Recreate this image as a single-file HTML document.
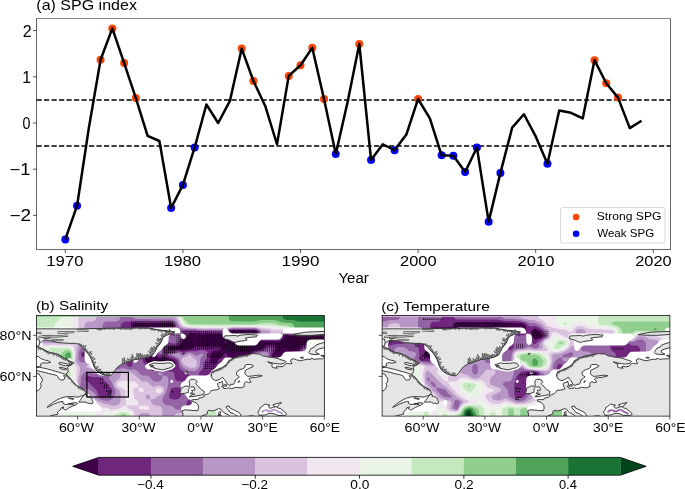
<!DOCTYPE html>
<html><head><meta charset="utf-8"><style>
html,body{margin:0;padding:0;background:#fff;width:685px;height:489px;overflow:hidden}
svg{display:block}
</style></head><body>
<svg width="685" height="489" viewBox="0 0 685 489">
<defs><pattern id="stp" patternUnits="userSpaceOnUse" x="0.07" y="1.0" width="2.0557" height="2.0557"><rect x="0" y="0.15" width="0.9" height="1.3" fill="#000"/></pattern></defs>
<line x1="36.5" y1="99.90" x2="670.5" y2="99.90" stroke="#000" stroke-width="1.5" stroke-dasharray="5.2 2.3"/>
<line x1="36.5" y1="146.10" x2="670.5" y2="146.10" stroke="#000" stroke-width="1.5" stroke-dasharray="5.2 2.3"/>
<circle cx="100.58" cy="59.71" r="4" fill="#ff4500"/>
<circle cx="112.34" cy="28.38" r="4" fill="#ff4500"/>
<circle cx="124.10" cy="62.94" r="4" fill="#ff4500"/>
<circle cx="135.86" cy="98.05" r="4" fill="#ff4500"/>
<circle cx="241.70" cy="48.62" r="4" fill="#ff4500"/>
<circle cx="253.46" cy="80.96" r="4" fill="#ff4500"/>
<circle cx="288.74" cy="75.88" r="4" fill="#ff4500"/>
<circle cx="300.50" cy="65.25" r="4" fill="#ff4500"/>
<circle cx="312.26" cy="47.69" r="4" fill="#ff4500"/>
<circle cx="324.02" cy="98.98" r="4" fill="#ff4500"/>
<circle cx="359.30" cy="44.00" r="4" fill="#ff4500"/>
<circle cx="418.10" cy="98.98" r="4" fill="#ff4500"/>
<circle cx="594.50" cy="60.17" r="4" fill="#ff4500"/>
<circle cx="606.26" cy="83.27" r="4" fill="#ff4500"/>
<circle cx="618.02" cy="97.59" r="4" fill="#ff4500"/>
<circle cx="65.30" cy="239.42" r="4" fill="#0000ff"/>
<circle cx="77.06" cy="205.70" r="4" fill="#0000ff"/>
<circle cx="171.14" cy="208.01" r="4" fill="#0000ff"/>
<circle cx="182.90" cy="184.91" r="4" fill="#0000ff"/>
<circle cx="194.66" cy="147.49" r="4" fill="#0000ff"/>
<circle cx="335.78" cy="153.95" r="4" fill="#0000ff"/>
<circle cx="371.06" cy="159.96" r="4" fill="#0000ff"/>
<circle cx="394.58" cy="150.26" r="4" fill="#0000ff"/>
<circle cx="441.62" cy="155.34" r="4" fill="#0000ff"/>
<circle cx="453.38" cy="155.80" r="4" fill="#0000ff"/>
<circle cx="465.14" cy="171.97" r="4" fill="#0000ff"/>
<circle cx="476.90" cy="147.49" r="4" fill="#0000ff"/>
<circle cx="488.66" cy="221.64" r="4" fill="#0000ff"/>
<circle cx="500.42" cy="172.90" r="4" fill="#0000ff"/>
<circle cx="547.46" cy="163.66" r="4" fill="#0000ff"/>
<polyline points="65.30,239.42 77.06,205.70 88.82,128.08 100.58,59.71 112.34,28.38 124.10,62.94 135.86,98.05 147.62,135.94 159.38,141.02 171.14,208.01 182.90,184.91 194.66,147.49 206.42,104.52 218.18,123.00 229.94,100.82 241.70,48.62 253.46,80.96 265.22,105.91 276.98,144.25 288.74,75.88 300.50,65.25 312.26,47.69 324.02,98.98 335.78,153.95 347.54,102.21 359.30,44.00 371.06,159.96 382.82,144.25 394.58,150.26 406.34,134.55 418.10,98.98 429.86,118.38 441.62,155.34 453.38,155.80 465.14,171.97 476.90,147.49 488.66,221.64 500.42,172.90 512.18,127.62 523.94,114.22 535.70,136.40 547.46,163.66 559.22,110.53 570.98,112.84 582.74,118.38 594.50,60.17 606.26,83.27 618.02,97.59 629.78,128.08 641.54,120.69" fill="none" stroke="#000" stroke-width="2.5" stroke-linejoin="round" stroke-linecap="butt"/>
<path d="M36.5,18.5 V249.5 H670.5 V18.5" fill="none" stroke="#000" stroke-width="0.6"/>
<line x1="36.5" y1="18.5" x2="670.5" y2="18.5" stroke="#000" stroke-width="0.47"/>
<line x1="33.0" y1="30.60" x2="36.5" y2="30.60" stroke="#000" stroke-width="0.65"/>
<line x1="33.0" y1="76.80" x2="36.5" y2="76.80" stroke="#000" stroke-width="0.65"/>
<line x1="33.0" y1="123.00" x2="36.5" y2="123.00" stroke="#000" stroke-width="0.65"/>
<line x1="33.0" y1="169.20" x2="36.5" y2="169.20" stroke="#000" stroke-width="0.65"/>
<line x1="33.0" y1="215.40" x2="36.5" y2="215.40" stroke="#000" stroke-width="0.65"/>
<line x1="65.30" y1="249.5" x2="65.30" y2="253.0" stroke="#000" stroke-width="0.65"/>
<line x1="182.90" y1="249.5" x2="182.90" y2="253.0" stroke="#000" stroke-width="0.65"/>
<line x1="300.50" y1="249.5" x2="300.50" y2="253.0" stroke="#000" stroke-width="0.65"/>
<line x1="418.10" y1="249.5" x2="418.10" y2="253.0" stroke="#000" stroke-width="0.65"/>
<line x1="535.70" y1="249.5" x2="535.70" y2="253.0" stroke="#000" stroke-width="0.65"/>
<line x1="653.30" y1="249.5" x2="653.30" y2="253.0" stroke="#000" stroke-width="0.65"/>
<rect x="560.5" y="207.5" width="104.5" height="35.5" rx="2" fill="#fff" fill-opacity="0.8" stroke="#d6d6d6" stroke-width="0.9"/>
<circle cx="576.1" cy="217.1" r="3.3" fill="#ff4500"/>
<circle cx="576.1" cy="233.8" r="3.3" fill="#0000ff"/>
<polygon points="98.80,457.4 98.80,475.2 72.7,466.30" fill="#40004b"/>
<polygon points="620.30,457.4 620.30,475.2 646.2,466.30" fill="#00441b"/>
<rect x="98.80" y="457.4" width="52.45" height="17.80" fill="#71267e"/>
<rect x="150.95" y="457.4" width="52.45" height="17.80" fill="#9363a4"/>
<rect x="203.10" y="457.4" width="52.45" height="17.80" fill="#b797c5"/>
<rect x="255.25" y="457.4" width="52.45" height="17.80" fill="#dac3df"/>
<rect x="307.40" y="457.4" width="52.45" height="17.80" fill="#f0e7f0"/>
<rect x="359.55" y="457.4" width="52.45" height="17.80" fill="#e9f4e7"/>
<rect x="411.70" y="457.4" width="52.45" height="17.80" fill="#c6e8c0"/>
<rect x="463.85" y="457.4" width="52.45" height="17.80" fill="#91cf8f"/>
<rect x="516.00" y="457.4" width="52.45" height="17.80" fill="#4fa459"/>
<rect x="568.15" y="457.4" width="52.45" height="17.80" fill="#197334"/>
<polygon points="98.80,457.4 620.30,457.4 646.2,466.30 620.30,475.2 98.80,475.2 72.7,466.30" fill="none" stroke="#000" stroke-width="0.8"/>
<line x1="150.95" y1="475.2" x2="150.95" y2="478.7" stroke="#000" stroke-width="0.8"/>
<line x1="255.25" y1="475.2" x2="255.25" y2="478.7" stroke="#000" stroke-width="0.8"/>
<line x1="359.55" y1="475.2" x2="359.55" y2="478.7" stroke="#000" stroke-width="0.8"/>
<line x1="463.85" y1="475.2" x2="463.85" y2="478.7" stroke="#000" stroke-width="0.8"/>
<line x1="568.15" y1="475.2" x2="568.15" y2="478.7" stroke="#000" stroke-width="0.8"/>
<svg x="36.5" y="315.5" width="287.8" height="100.6" viewBox="0 0 287.8 100.6" overflow="hidden"><rect width="287.8" height="100.6" fill="#fff"/><rect width="287.8" height="100.6" fill="#40004b"/>
<path d="M0.5,0 288,0 288,20.7 260,20.7 250,20.1 248.5,20.7 246.3,24 244.5,25.2 242,25.7 237,25.8 225.5,25.3 223.1,24.5 221.9,23.5 221.1,22 220.4,16 219.5,15.1 218,14.7 195.5,14.7 193.2,15.5 190,18.1 187.5,18.6 165.5,18.6 158.5,17.2 154.5,17.1 153,17.4 151.9,18 149.5,22.9 145.9,25.5 143.5,28.9 142.5,29.8 140.5,30.5 134.5,30.8 133,31.3 132.2,32 131.9,33 132.2,33.5 134,34.4 141,34.3 147,35.1 154.5,33.9 156.5,33 158.7,31.5 160.5,31 181,31.1 183.6,31.5 184.2,32 184.5,33 184.2,34 183.6,34.5 182,34.9 177.5,35.1 176.5,35.5 175.5,36.5 174.9,38 173.4,44.5 173.5,45.9 174,47 176,48.5 177.5,48.6 178.5,48.3 180,47 182,44 185.6,41.5 187.8,38 189,37.7 190,38.2 190.6,39 190.9,40.5 191.3,51.5 192.4,53.5 195.5,55.6 196.6,57 197.1,62.5 197.7,64.5 199,66 201.4,67.5 202.3,68.5 202.9,70 203.1,73 203.6,74 206.5,75.3 211,75.5 213.6,75 214.4,74 214.6,73 214.7,40.5 214.9,38.5 215.6,37 217,35.6 218.5,34.9 224.5,34.2 226,33.6 229,30.6 231,29.6 236,29.4 238.5,30.2 240,32 240,34 239,35.4 236,38 235.4,40.5 235.3,90.5 235.6,92 236.4,93 240,94.5 241.5,96 242.2,98 242.4,101 0,101 0,0 0.5,0ZM98.7,7.5 96.2,8.5 95.1,10 95,24.5 95.3,26.5 95.9,27.5 97.1,28.5 99,29.2 103.5,29.4 106,29 107,28.2 108.6,25 111,23.6 116.5,23.4 122,24.5 123.5,24.3 124.8,23 126.2,19.5 127.5,18.2 129.5,17.5 135,17.1 136.5,16 137.2,14.5 137.4,11.5 137.1,9.5 136,8.2 134.5,7.5 98.7,7.5ZM109.4,31.5 108.8,32.5 108.6,34.5 108.6,43 108.9,45 110,46.6 113.4,49 116,52.5 118,53.1 123,52.8 129.5,53.3 134,53.4 137,52.8 138.5,51.5 139,49.5 138.9,46.5 138.4,45.5 137.3,44.5 129,41.5 124,42.3 122,42 120.5,40.9 118.1,37.5 114.6,35 112,31.6 110.5,31.1 109.4,31.5ZM189,26 189.8,26.5 190,27 189.5,27.9 188.5,28.1 188,27.8 187.8,27 188.1,26.5 189,26ZM268,29.4 278,29.4 280.5,30.2 281.5,31.2 282.3,32.5 282.7,38 283.5,40 285,41.1 288,41.4 288,101 269.4,101 269.2,87.5 268.1,85.5 264.6,83 263.6,81 263.4,34 263.7,32.5 264.6,31 266,30 268,29.4Z" fill="#71267e" fill-rule="evenodd"/>
<path d="M0.5,0 288,0 288,19.8 259,19.8 254.5,19.6 249,18.8 247.5,19.6 245.4,22.5 244,23.7 242,24.3 237.5,24.3 226,23.5 224.5,23.1 223.5,22.3 222.7,21 222.3,16.5 222,15.5 220.5,14.3 218.5,13.8 195.5,13.7 192.5,14.4 189,16 186.5,16.3 166.5,16.3 158.5,15 148,14.9 146,15.3 145.3,16 145.6,17 147.5,19.5 147.5,20.5 147,21.5 143.5,23.9 142,26.5 141,27.6 139.5,28 135.5,28 132.5,27 129,23.5 128.4,22 128.7,21 129.5,20.3 136.5,19.4 138.1,18.5 139.2,17 139.9,14.5 139.5,9.5 138.5,7.9 136,6.2 133,5.6 100.5,5.6 87.5,6.3 85.2,8 84.5,9 84.1,10.5 84,25.5 84.3,27 85.1,28.5 86,29.3 87.5,29.9 92,30.1 97.5,31.7 103.5,32 105,32.4 105.6,33 106,34.1 106.1,44 106.6,46.5 107.9,48.5 111.5,50.8 113.9,54.5 116.5,55.6 123.5,54.6 129,55.7 134.5,56 136.6,56.5 137.8,58 138.1,62.5 139.1,64.5 141,65.7 146,66.1 148,66.7 149.5,68.5 150,71.8 151.5,71.9 153.5,71.5 154.5,70.9 155.5,69.6 155.9,68 156,65 155.3,62 154.4,61 149.2,57 144,54 142.6,51.5 141.6,46 141,44.5 139,43.1 132.7,40.5 131.6,39.5 131.5,38 133.5,36.7 139,35.9 142,35.9 147,37.3 152.5,35.8 159,35.7 164.5,34.6 169,35.3 171.1,36.5 171.7,38 171.8,39.5 171,41.5 168.3,45.5 167.6,51.5 166.6,53 163,56.5 162.2,58 162,73.5 161.6,75.5 160.4,77 157,79.5 154.5,83 151.5,85.1 150.3,87 150.1,91.5 151,92.7 152.7,93.5 154.7,93.5 158,92.9 159,92 160.1,89.5 160.9,88.5 164.5,86.6 165,85.5 165.2,80.5 165.8,78 167,76.4 169,75.5 172.5,75.1 199,75.1 206,76.3 210,76.5 213.5,76.3 215.5,75.5 216.2,74.5 216.4,73 216.4,41.5 216.9,38.5 218,37.2 219.5,36.5 227.2,35 231.5,32.1 234.7,32 236.5,32.5 236.7,33.5 234.2,36.5 233.6,39.5 233.6,91 234,92.5 235,93.5 239,95.4 240.3,96.5 241.2,98.5 241.4,101 0,101 0,0 0.5,0ZM45.8,36.5 44.9,37.5 44.6,39.5 45.1,41 46.5,41.9 50.5,41.7 56,39.8 57.2,38.5 57,37 55.5,36.1 47.5,36 45.8,36.5ZM91.7,37 90.5,38.4 90.1,40 90.1,49 90.3,50 91.4,51 93.5,51.4 95,50.9 95.9,49.5 95.9,40 95.5,38.5 94.5,37.1 93,36.6 91.7,37ZM50.3,61 49.3,62 48.8,63 49.2,64.5 52.5,67 55.6,70.5 59.5,74 61,76.5 62.4,80.5 63.4,81.5 67,82.2 69.7,82 71.4,81 75.3,77 75.9,75 75,73 70.9,68 65.1,62.5 62.5,61.6 56.5,61.5 52,60.6 50.3,61ZM138.4,72 136.5,72.1 135.4,72.5 134.4,73.5 133.6,75.5 132.5,81.1 133.1,82.5 135,83.7 139.5,84 142,83.3 143,82.4 145.5,79 148.9,76.5 149.8,74.5 150,72.5 149.5,72 138.4,72ZM114,26 116.5,26 118.5,26.6 124.9,31.5 125.7,33 126,35.5 125.9,37.5 125,38.9 123.5,39.4 122.5,39 120.5,35.9 116.8,33.5 114.5,29.9 111.3,27.5 111.5,26.5 114,26ZM268.5,32 277,31.9 279,32.5 279.9,34 280.3,39.5 281.4,42 282.5,43 284,43.6 288,43.9 288,101 271.9,101 271.9,88.5 271.6,86 270.1,83.5 266.5,81.1 265.9,79 265.9,35 266.5,33 267.5,32.2 268.5,32Z" fill="#9363a4" fill-rule="evenodd"/>
<path d="M0.5,0 84,0 83.5,3 82.5,4.4 81,5.5 79,6 69.5,6.1 68,6.7 66.7,8 66,10.5 66,19 67.3,27 66.7,29 65.5,30.4 64,31.2 62,31.6 46,31.6 44.5,32.3 43.5,33.4 42.2,38 42.1,43.5 43,45.5 44.5,46.9 45.5,47.3 51,46.1 54.5,43.2 58,41.3 59.3,40 60.7,36.5 62,35.1 64,34.9 66,36 67.3,38.5 67.6,43 67.3,46.5 66.1,51.5 65.9,56 65.4,57 64.5,57.8 62,58.4 57,58.3 51,55.9 49.5,56.1 48,57 46,59.2 44.5,62 44.1,69 43.3,71.5 42,73 38.7,75 37,78.1 34.4,80.5 34.8,81 38.5,81.3 41.3,80.5 46.5,77 49.5,73.1 51,72.8 58,77.5 60.7,82 62.5,83.6 69.5,85.3 72.5,84.9 75,84 76.5,83 78,81 78.9,78.5 79.2,76 78.8,74.5 76.6,70.5 75.1,66.5 72.3,62.5 72,59 72.4,56.5 73.5,55.1 75,54.3 80.5,53.9 85,52.8 87,52.7 92.5,53.9 98,54 99.5,54.4 101,55.5 104.5,59.2 106,59.9 110,60.1 111.6,60.5 113,61.5 116,64.8 118,65.9 122,65.9 124,65.3 125.5,63.5 126,60.5 126.5,60.1 128.5,60.2 130,60.8 131,61.6 131.7,63 131.9,68 129.9,76.5 126.1,82.5 126.1,85.5 126.8,87.5 128,88.8 129.5,89.7 134,90.1 135.6,90.5 138.5,93.2 140,94 146.5,94.5 151.5,95.7 153.5,95.6 159.1,94 160.1,93 162,90 165.7,87.5 166.3,86 166.5,81.5 167,79.5 168,78 170,76.8 173,76.4 199,76.4 206.5,77.3 211.5,77.4 215,77.2 217.1,76.5 217.9,75.5 218.3,73.5 218.5,39.8 219.4,38.5 221,37.8 224.5,37.1 230,36.7 231.2,37.5 231.7,40 231.9,91.5 232.5,93 233.5,93.9 238,95.9 239.4,97 240.3,98.5 240.6,101 0,101 0,0 0.5,0ZM96.5,0 288,0 288,19.1 257.5,19 254,18.7 248.5,17.4 246.5,18.4 244.4,21.5 243,22.6 241,23 236.5,22.9 231,21.8 225.5,21.3 224.5,20 224.3,16.5 223.9,15.5 222.2,14 219.5,13.1 196,12.9 193.5,13.2 188.5,14.6 186,14.7 166,14.7 159,13.9 148,13.4 143.5,12.4 142.5,11.4 141,8 140,6.7 138,5.2 135,3.9 99.5,3.6 98,3.2 96.7,2.5 96.1,1 96,0 96.5,0ZM139,37.4 142,37.5 145.5,39.3 147,39.5 151.5,37.6 154,37.3 156,38 158.5,39.7 160,40.1 161.5,39.8 164.5,38.1 166.2,38.5 166.6,39 166.6,40 164.5,42.2 163.8,43.5 163.4,50 162.7,52 160,54.7 158.5,55.4 157,55.5 153,55.3 147.5,52.7 146,51.5 144.6,49.5 142.5,43 141.5,42.2 135.7,39.5 135.5,39 135.8,38.5 139,37.4ZM122.5,57 124,57.1 125.3,58 125.8,59.5 125.5,59.9 123.5,59.8 121.8,59 121.3,58 121.5,57.5 122.5,57Z" fill="#b797c5" fill-rule="evenodd"/>
<path d="M0.5,0 60,0 59.6,3.5 58,5.3 56,5.9 51,6.3 49.1,7.5 48.1,9.5 48.1,14 49.1,16.5 53,19.5 55.5,22.9 57.5,23.9 61.5,24.1 62.5,24.4 63.5,25.5 63.7,27 63,27.9 61.5,28.3 45,28.6 42.6,29.5 41.3,31 40.5,33.5 39.2,44.5 39.8,46.5 42.7,50 43.5,52 43.5,56 42.1,62.5 41.9,68.5 40.9,70.5 37.5,73 35,76.5 31.7,79.5 31.4,81 32.3,82.5 34,83.1 38,83.2 46,82.1 51.5,83.3 52.5,82.9 55,80.5 56,80.2 57.4,81 59,84 60,85 67,87.9 76,89.9 79.5,89.9 81,89.5 82.8,88 83.9,86 84,77 83.5,75.5 80.5,72.7 78.9,70.5 78.4,69 78.5,67 79.5,65.4 83.5,62.5 83.9,61.5 84.2,58 85.4,56.5 87.5,55.8 93,56.3 95.8,57.5 104.5,65.2 106,65.9 109.5,66.1 111,66.5 116,71.2 117,71.3 120.5,70.3 123,70.1 125.5,70.7 127,72 127.6,73.5 127.7,75 127.2,76.5 126,78 124,79.5 120.7,81 118,83.3 116.5,83.8 114.4,84 114,84.5 114.6,87 116.5,89.2 118,89.9 122.5,90.3 124,91.2 125.2,92.5 125.9,94.5 126,101 114,101 113.7,99.5 112.5,98.2 111,97.7 108,97.6 105,97.7 103.5,98.2 102.3,99.5 102,101 0,101 0,27.8 33,27.4 35.4,26.5 35.9,25.5 36,24 35.9,22.5 35.4,21.5 34,20.6 32.5,20.3 0,20.5 0,0 0.5,0ZM110.5,79 109,80.5 108.8,81.5 109,82.2 110.5,83.5 113.5,84 114,83.5 113.9,82.5 113.2,80 112,78.9 110.5,79ZM138,0 288,0 288,18.5 257,18.3 253.5,17.8 248,15.9 246.5,16.2 245,17 242.5,20.9 241,21.3 238.5,21.3 236.2,21 234.5,20 234.1,19 233.8,16.5 233,15.5 232.1,15 226,14.4 222,12.9 219,12.3 196,12.2 186.5,13.5 166,13.5 151,12.6 146.5,11.8 144.3,10.5 141,5.1 138.3,2 138,0ZM225,39 227.1,39.5 227.8,40.5 228,41.5 228.2,86 229.5,89.1 230.4,92.5 231.1,93.5 233,94.9 238.1,97 239.3,98.5 239.8,101 138,101 138.6,99 140.5,97.8 145.5,97.6 152,97.9 160,94.7 162.8,91 166.7,88 167.4,86 167.9,80.5 169,78.8 171,77.7 200.5,77.5 206.5,78.1 215,78.4 217,79 219.5,80.9 220.5,80.9 221.3,80.5 221.9,79.5 222,78 222,41.5 222.6,40 223.5,39.3 225,39ZM62.5,39.4 63.5,39 64.2,40 64.4,43.5 64.1,45.5 63,47.4 61,49.5 58.9,52.5 58,53.2 56.5,53.5 51,52.2 49.7,51.5 49.9,50.5 53.5,48.4 56.2,45 60.5,42.6 62.5,39.4ZM152.5,39.4 154,39.6 156,42 159.2,44 160.1,45 160.4,47 160.3,50 159.9,51 158.8,52 156,52.4 152.5,52 147.5,49.3 145.6,47 145.1,45 145.6,43 146.5,42.3 149.5,41.3 152.5,39.4Z" fill="#dac3df" fill-rule="evenodd"/>
<path d="M0.5,0 42,0 42,13 41.6,15.5 40,17.3 38,18 22,18 14,18.8 0,18.8 0,0 0.5,0ZM142,0 288,0 288,17.8 262,17.8 256.5,17.6 253,16.8 248,14.4 238.5,14.3 232,13 226,12.7 218.5,11.5 196,11.5 186.5,12.5 166,12.5 152,11.8 147.5,10.9 146,10.1 145,9.1 141.9,3 141.6,0 142,0ZM13,29.4 33.5,29.3 36.5,30.3 37.7,32 38.6,38 38,46.3 38.5,48.3 40.2,51.5 40.5,53 39.8,67.5 39,69.3 35.5,71.4 33.4,75 30.7,77 30,78 29.5,81 30.1,82.5 31,83.6 32.5,84.4 34.5,84.7 39,84.7 44,84.2 46,84.5 48,85.5 51,88.1 57,88.6 59,89.3 60.4,90.5 62,93.6 63,94.7 64,94.6 66.7,92.5 68.5,91.9 70,92.1 75,94.2 81,93.7 83.5,92.8 87,90.5 89.5,90 90,89.5 88.6,81.5 89.4,76 89.2,75 88.2,74 81.6,70.5 80.9,69.5 81.1,68 83.5,66.3 87.5,64.7 93.5,65.9 98,66.1 99.5,66.8 100.5,67.7 101.4,69 101.9,70.5 102,71.5 101.6,72 99,72.3 97.5,73.1 96.8,74 96.5,75.5 98,82.1 98.8,83.5 101.3,86 101.8,87.5 102,89.5 101.5,90 91,90 90.1,90.5 91.1,92.5 95.5,94.6 97,96 97.8,98 98.1,101 0,101 0,30 8,30 13,29.4ZM102.5,72 105,72.3 106.8,73.5 107.2,75 106,76.7 104.5,77.2 103,76.3 102.1,74 102,72.5 102.5,72ZM122.5,72.5 124.5,73.2 125.2,74 125.3,75 125,76 124,77.1 123,77.5 121.5,77.6 119.5,76.5 119.1,75 120.1,73.5 122.5,72.5ZM171,78.8 173.5,78.5 199.5,78.5 212.5,79.1 214.5,79.5 216,80.3 218.5,82.7 222.8,84.5 224.9,87.5 227.4,90 230,94.4 232,95.7 237.5,97.6 238.6,99 239,101 153.9,101 154.2,99.5 155,98.5 160.7,95.5 163.5,91.8 167.5,88.7 168.4,86.5 168.8,81 169.8,79.5 171,78.8ZM102.5,90 110.5,90.3 112.3,91.5 112.8,93 112,93.9 110.5,94.3 104.5,94.1 103.2,93.5 102.4,92.5 102,90.5 102.5,90Z" fill="#f0e7f0" fill-rule="evenodd"/>
<path d="M0.5,0 36,0 36,12 35.7,14 34.5,15.2 32.5,15.7 22,15.9 14.5,17.2 0,17.2 0,0 0.5,0ZM143.5,0 288,0 288,17.2 262.5,17.2 257,16.9 253.5,16.1 249.5,13.3 248,12.8 242,12.6 231.5,11.3 220.5,10.8 196,10.7 186.5,11.5 166,11.5 152.7,11 148.5,10 146.3,8.5 143.6,3.5 143.3,1.5 143.2,0 143.5,0ZM14,31 32,30.8 34.4,31.5 35.9,33 36.9,35.5 37.4,38.5 36.5,51 37.4,57 37.3,63 37,64.5 36,66 32.5,68.3 30,72 27,73.9 26.2,75 26.1,76.5 28,83 29.2,85 31.5,86.2 34.5,86.5 44.5,86.4 45.7,87 48,90 49.5,91 51,91.4 55.5,91.6 57,92 58,92.9 58.5,94 60,101 0,101 0,32.2 8,32.1 14,31ZM87,68.4 88,68.7 88,69.5 86.5,69.5 86.2,69 87,68.4ZM93,79.9 93.5,80.2 93.8,81 93.6,82 93,82.3 92.5,81.9 92.3,81 92.5,80.2 93,79.9ZM171.5,79.8 200,79.6 211.5,79.9 213.5,80.3 214.7,81 217,83.6 221,86 223,88.5 226,91.1 229,95.6 231.5,96.9 236.5,98.1 237.6,99 238.1,101 156,101 156.4,99.5 157,98.8 161.5,96.4 162.5,95.4 164.3,92.5 168.4,89.5 169.4,87 169.8,81.5 170.5,80.4 171.5,79.8ZM85.5,94.5 88,94.4 93.8,96.5 95.6,98.5 96,101 66,101 66.8,98.5 68,97.2 69,96.7 75,97.3 85.5,94.5Z" fill="#e9f4e7" fill-rule="evenodd"/>
<path d="M0.5,0 24,0 24,1.5 23.7,3 23,4.4 19.6,7 18.5,8.4 18.1,10 17.9,13 17,14.5 14,15.4 0,15.5 0,0 0.5,0ZM145,0 288,0 288,16.5 262,16.5 257,16.1 254,15.3 251,12.4 249.2,11.5 242.5,11.1 237,10.1 233.5,9.8 196,9.9 187,10.4 166,10.4 153,10.1 149.6,9 147.1,7 145,3 144.8,0 145,0ZM22.5,32.5 32.5,32.5 34.2,33.5 35.5,35.6 36.2,38 36.4,40 35.8,46 35,48.5 34,49.6 33,50.2 31.5,50.4 26.5,50 25.3,50.5 24.8,51.5 25.2,52.5 26.5,53.5 31.5,54.1 33.2,55 34.3,57.5 34.3,62 33.5,63.7 30,66 27.5,69.7 24,72 23,73.5 21.8,76.5 21,77.4 19.5,77.9 15.5,77.9 13.5,76.9 11,73.6 9.5,72.4 7.5,72 0,72 0,60 3,59.7 5,58.4 5.9,56.5 6.1,52 6.5,50.4 7.6,49 10.5,46.9 11.6,45.5 12,43.5 12,35.5 12.5,34 13.9,33 15.5,32.6 22.5,32.5ZM173,81 200.5,81 212.5,81.4 213.5,82.2 215.2,85 219.1,87 221.4,90.5 225,93 226.4,96 227.5,97.2 230,98.3 235.5,99.2 236.5,99.9 236.8,101 158.2,101 159,99.4 162.4,98 163.5,97.1 165.5,93.4 168.5,91.9 169.6,91 170.8,88 171.2,82 172,81.2 173,81ZM86,96.4 88.5,96.5 92.3,98 93.5,99.2 93.9,101 78.1,101 78.3,100 79.5,98.9 86,96.4Z" fill="#c6e8c0" fill-rule="evenodd"/>
<path d="M147,0 288,0 288,15.8 259,15.5 255.2,14.5 253,11.2 251,10.1 248.5,9.7 243,9.4 237.5,7.7 235.5,7.5 226,7.5 220.5,8.6 217.5,8.9 154,8.8 151.8,8 150,6 147.5,4 146.6,2 146.5,0 147,0ZM30.5,34.5 32,34.4 33.5,35.1 34.7,37 35.3,39 34.9,45.5 34,47.4 32.5,48.3 30,48 25.7,46 24.5,45 24.1,43.5 24.1,39.5 25,37.5 27.5,35.5 30.5,34.5ZM86,98.8 87,98.6 88.5,99 89.6,100 89.9,101 84.1,101 84.8,99.5 86,98.8Z" fill="#91cf8f" fill-rule="evenodd"/>
<path d="M192.5,0 288,0 288,14.6 260.9,14.5 258.5,13.5 257.6,9.5 255.7,8 254,7.6 246.5,7.1 241,5.2 237.5,4.5 225,4.5 217,6 195.5,5.8 193.6,5 192.5,3.6 192,0 192.5,0ZM31,36.9 32,36.7 33,37 33.8,38 34.2,39.5 34,44.7 33.5,45.8 32.5,46.6 31.5,46.5 30,45.8 29.1,45 28.5,43.5 28.5,40.5 28.9,39 29.5,38 31,36.9Z" fill="#4fa459" fill-rule="evenodd"/>
<path d="M246.5,0 288,0 288,6 262.5,6 256,4.6 249.5,4.3 247.5,3.6 246.4,2.5 246,0 246.5,0Z" fill="#197334" fill-rule="evenodd"/>
<path d="M94.0,6.0 138.0,6.0 138.0,10.5 94.0,10.5ZM140.0,15.0 186.0,15.0 186.0,34.0 140.0,34.0ZM127.0,30.0 140.0,30.0 140.0,38.5 127.0,38.5ZM172.0,14.5 224.0,14.5 224.0,20.5 172.0,20.5ZM186.0,20.5 200.0,20.5 200.0,34.0 186.0,34.0ZM170.0,37.5 188.0,37.5 188.0,42.5 170.0,42.5ZM167.0,46.0 182.0,46.0 182.0,54.0 167.0,54.0ZM125.0,39.5 129.0,39.5 129.0,43.5 125.0,43.5ZM111.5,44.0 134.5,44.0 134.5,45.6 111.5,45.6ZM97.5,46.2 101.5,46.2 101.5,48.0 97.5,48.0ZM244.0,17.7 288.0,17.7 288.0,33.5 244.0,33.5ZM191.0,27.5 244.0,27.5 244.0,36.0 191.0,36.0ZM134.7,75.0 137.5,75.0 137.5,77.5 134.7,77.5Z" fill="url(#stp)"/>
<g fill="#000"><rect x="63.30" y="62.75" width="1.2" height="1.3"/><rect x="65.50" y="62.75" width="1.2" height="1.3"/><rect x="63.30" y="66.85" width="1.2" height="1.3"/><rect x="65.50" y="66.85" width="1.2" height="1.3"/><rect x="67.40" y="69.05" width="1.2" height="1.3"/><rect x="69.60" y="69.05" width="1.2" height="1.3"/><rect x="67.40" y="71.25" width="1.2" height="1.3"/><rect x="69.60" y="71.25" width="1.2" height="1.3"/><rect x="69.60" y="74.95" width="1.2" height="1.3"/><rect x="71.80" y="74.95" width="1.2" height="1.3"/><rect x="73.60" y="74.95" width="1.2" height="1.3"/><rect x="71.80" y="76.75" width="1.2" height="1.3"/><rect x="73.60" y="76.75" width="1.2" height="1.3"/><rect x="71.80" y="78.65" width="1.2" height="1.3"/><rect x="73.60" y="78.65" width="1.2" height="1.3"/><rect x="71.80" y="80.45" width="1.2" height="1.3"/><rect x="73.60" y="80.45" width="1.2" height="1.3"/><rect x="46.50" y="38.15" width="1.2" height="1.3"/></g>
<path d="M0.5,12 37.5,12 39.5,12.4 40.9,13.5 41.4,15 40.9,16.5 37,19.5 34.5,22.9 33,23.7 30.5,24 10.5,24 8.5,24.4 7,25.6 6.3,27 6,29 6,54.5 6.3,57 7.6,59 10,59.9 31,60 34,60.7 35,61.6 37.5,65 40,66.6 41.3,68 41.9,70 42.1,74.5 43.1,76.5 45,77.7 50.5,78.1 52.5,79.1 55,82.5 58.5,85 61,88.5 64.9,91.5 65.4,92.5 65.4,93.5 64.4,95 63,95.7 61,96 28,96.1 26.4,96.5 25,97.6 24.3,99 24,101 0,101 0,12 0.5,12ZM98.5,12.4 101.5,12 140,12.1 141.6,12.5 143,13.6 143.7,15 144,17.5 143.5,18 135.5,18.1 133.5,19.1 132.3,21 131.9,26.5 131,28.4 127.5,31 125,34.5 121.5,37 119,40.4 117.5,41.4 116.5,41.4 115.1,40.5 113,37.5 109.5,35 106.5,31.1 105,30.6 103.7,31 102.5,32.4 102.1,34 101.7,45 100.5,46.9 99,47.4 97.1,46.5 95,43.5 91.5,41 88.5,37 85.1,34.5 84.3,33 84,30.5 84.1,27.5 85.1,25.5 88.5,23 91,19.5 94.5,17 97,13.6 98.5,12.4ZM248.5,12.4 251.5,12 288,12 288,18 246.5,18 246,17.5 246.5,14.5 247.5,13.1 248.5,12.4ZM188,12.8 189,12.6 190.3,13 193.5,16.9 196,17.9 245.5,18 246,18.5 245.9,20 244.9,22.5 244,23.3 242.5,23.9 225,24.3 223.1,25.5 220.5,28.9 218.5,29.9 202,29.9 199.5,28.9 197,25.6 195.6,24.5 194,24.1 189,23.7 187,22.4 186.1,20.5 186.1,16 186.7,14 188,12.8ZM144.5,18 147,18.3 148.8,19.5 149.4,21 149.2,22 148.5,22.8 147,23.4 146,23.2 145.1,22.5 144.1,20 144,18.5 144.5,18ZM276,24 288,24 288,101 180,101 179.9,94 179.3,92 177.5,90.4 174,90 171.5,90.1 169.5,91.1 167,94.5 163,97.6 162.3,99 162,101 150,101 149.7,99 149,97.6 145.6,95 144.8,94 144.6,92.5 146,90.7 148,90.1 153,89.7 154.5,88.9 155.4,87.5 155.4,86.5 154.9,85.5 151,82.5 148.5,79 145.1,76.5 144.1,74 144.1,70 144.7,68 146,66.6 148.5,65 151,61.6 152.4,60.5 154.5,60 169,60 171.5,59.6 173,58.4 175.5,55 179,52.5 181.5,49 185,46.5 187.1,43.5 188,42.7 189.5,42.1 193.5,42 195.5,42.4 197,43.6 199.5,46.9 201.5,47.9 224,47.9 226.5,46.9 229.1,43.5 231,42.3 241.5,42 243.5,41.6 245,40.4 247.1,37.5 249,36.3 267,35.7 268.5,34.9 269.6,33.5 269.9,32 270.1,27.5 271,25.6 273,24.3 276,24ZM56.5,24.4 60.5,24 63.6,24.5 65,25.6 67.5,29 70,30.6 71.3,32 72,34.5 72.3,45 73.5,46.9 76.9,49.5 77.9,51.5 77.9,56.5 77.3,58 76,59.3 73,60 64.5,60 62.5,59.6 61,58.4 58.5,55 55,52.5 52.5,49 50,47.4 48.7,46 48,43 48.3,33 49.5,31.1 52.5,29 55,25.6 56.5,24.4ZM32,42.8 33.5,42.6 35.2,44 35.4,45.5 34,47.2 32.5,47.4 30.8,46 30.6,44.5 32,42.8ZM110.5,48.5 114,48 117.5,48.4 119.2,50 119.4,51 119.2,52 118,53.3 116.5,53.9 112.5,54 110.5,53.5 109.1,52.5 108.6,51 109.1,49.5 110.5,48.5ZM134,48.8 135.5,48.6 137.2,50 137.4,51.5 136,53.2 134.5,53.4 132.8,52 132.6,50.5 134,48.8Z" fill="#fff" fill-rule="evenodd"/>
<rect x="0" y="0" width="190" height="1.4" fill="#91cf8f"/>
<path d="M111.9,51.3 111.9,51.4 112.0,51.6 112.0,51.8 112.1,52.0 112.2,52.1 112.3,52.3 112.4,52.4 112.6,52.6 112.7,52.7 112.9,52.8 113.1,52.9 113.2,53.0 113.4,53.0 115.9,53.6 116.0,53.7 116.1,53.9 116.2,54.1 116.3,54.2 116.4,54.4 116.6,54.5 116.7,54.6 116.9,54.7 117.1,54.8 117.3,54.8 117.4,54.9 120.9,55.5 121.0,55.5 126.1,56.3 126.3,56.3 126.5,56.4 126.6,56.3 126.8,56.3 127.0,56.3 131.1,55.0 135.0,54.0 135.1,54.0 135.3,53.9 135.5,53.8 135.6,53.7 138.1,51.8 138.3,51.7 138.4,51.6 138.5,51.4 138.6,51.3 138.7,51.1 138.8,50.9 138.8,50.8 138.9,50.6 138.9,50.4 138.9,50.2 138.9,50.0 138.9,49.8 138.8,49.6 138.7,49.4 138.7,49.3 138.6,49.1 138.4,49.0 136.4,46.5 136.3,46.3 136.1,46.2 136.0,46.1 135.8,46.0 135.6,45.9 135.4,45.9 135.2,45.8 131.9,45.2 131.7,45.2 131.5,45.2 131.3,45.2 127.3,45.8 122.4,46.0 118.5,45.4 118.3,45.4 118.1,45.4 117.9,45.4 117.7,45.4 117.5,45.5 112.0,47.5 111.8,47.6 111.6,47.7 111.4,47.8 111.3,48.0 111.2,48.1 111.0,48.2 110.9,48.4 110.8,48.6 110.8,48.8 110.7,49.0 110.7,49.2 110.7,49.4 110.7,49.6 110.7,49.7 110.7,49.9 110.8,50.1 110.9,50.3 111.0,50.5 111.1,50.6 111.2,50.8 111.3,50.9 111.5,51.0 111.7,51.2 111.8,51.2 111.9,51.3Z" fill="#fff"/>
<circle cx="135.2" cy="66" r="1.4" fill="#fff"/><circle cx="149.4" cy="57.5" r="1.3" fill="#fff"/>
<path d="M112.7,49.4 L118.2,47.4 L122.3,48.0 L127.5,47.8 L131.6,47.2 L134.9,47.8 L136.9,50.2 L134.4,52.1 L130.5,53.1 L126.4,54.4 L121.3,53.5 L117.8,52.9 L118.2,52.1 L113.9,51.1 L117.2,50.4Z M149.0,56.8 L151.1,56.0 L151.5,57.0 L150.1,57.6Z M145.7,38.7 L148.0,37.9 L148.2,38.1 L146.2,38.7Z M187.1,22.7 L188.1,20.4 L193.2,20.2 L198.4,20.0 L201.5,20.6 L203.5,19.8 L208.7,19.2 L213.8,19.0 L221.0,19.6 L220.0,21.3 L212.8,21.9 L208.7,22.7 L210.7,24.3 L207.6,25.2 L201.5,26.0 L198.4,27.0 L195.3,26.0 L193.2,24.8 L189.1,23.7Z M255.9,19.2 L261.1,18.0 L269.3,16.7 L277.5,16.3 L287.8,15.9 L294.0,16.5 L291.9,18.2 L283.7,19.2 L275.5,19.8 L265.2,19.8Z M289.9,26.4 L283.7,28.0 L279.6,29.5 L277.9,31.5 L274.4,33.2 L273.4,34.8 L272.2,37.1 L273.4,38.3 L276.5,38.9 L280.6,39.1 L282.9,38.7 L279.6,37.1 L279.2,35.2 L282.2,33.6 L287.8,32.2 L289.9,31.1Z M284.3,40.2 L285.7,39.6 L288.8,40.6 L287.8,41.2 L285.3,40.6Z M263.7,42.2 L266.2,41.4 L267.2,42.4 L265.2,42.8Z M289.9,102.0 L289.9,42.4 L288.2,41.2 L286.2,43.5 L283.7,43.3 L280.6,43.5 L277.5,43.9 L275.1,42.6 L274.4,43.9 L271.4,43.7 L267.2,44.5 L264.2,45.3 L260.0,44.3 L257.4,43.3 L254.9,43.7 L254.1,45.7 L255.5,48.0 L252.9,48.4 L251.4,47.6 L248.7,48.6 L247.1,50.7 L243.6,51.3 L240.9,50.7 L239.5,51.5 L241.1,52.7 L237.4,52.3 L235.8,51.7 L235.2,49.6 L236.2,48.6 L232.9,47.4 L231.1,46.3 L235.4,47.4 L239.5,48.2 L243.6,48.6 L247.7,47.8 L249.4,46.1 L247.7,45.1 L244.6,44.3 L240.5,42.8 L236.4,42.0 L232.3,41.6 L229.2,40.8 L226.1,40.4 L223.0,38.5 L218.9,38.3 L217.3,38.1 L213.8,38.5 L209.7,39.3 L205.6,40.0 L202.5,40.6 L199.4,41.8 L196.3,42.8 L194.3,44.1 L192.2,45.3 L191.0,47.6 L189.7,49.0 L187.1,51.1 L185.0,52.3 L181.9,53.5 L178.8,55.0 L175.8,56.2 L174.7,58.1 L174.5,60.5 L175.4,62.4 L176.2,63.6 L178.8,65.0 L181.5,64.6 L184.0,63.2 L186.2,61.8 L187.1,63.4 L188.9,65.0 L190.2,67.5 L190.8,68.7 L193.6,70.2 L194.1,68.9 L197.3,68.7 L198.4,66.7 L198.8,64.4 L201.5,62.8 L202.9,61.3 L200.2,59.5 L200.0,57.4 L200.6,56.0 L203.5,54.1 L206.6,53.1 L208.7,51.7 L208.2,50.2 L210.1,49.0 L214.2,49.0 L216.7,50.2 L216.5,51.1 L212.8,52.9 L209.1,54.6 L208.2,56.8 L208.7,58.9 L211.3,60.9 L215.8,60.5 L220.0,59.9 L223.0,59.7 L225.7,60.3 L223.0,61.1 L218.9,62.0 L213.8,62.4 L212.6,63.2 L212.8,64.4 L214.4,65.5 L214.2,66.7 L212.1,67.1 L209.7,66.1 L208.0,67.3 L207.6,69.2 L208.0,70.8 L205.2,72.2 L202.5,72.2 L199.4,71.8 L195.3,73.1 L192.2,72.4 L189.7,72.9 L187.1,73.1 L186.9,71.8 L185.0,71.2 L186.0,70.0 L186.7,68.5 L185.8,67.1 L186.0,65.7 L184.0,66.9 L182.1,67.3 L181.1,67.9 L181.3,70.2 L182.1,71.4 L182.8,73.3 L180.9,74.1 L178.6,74.5 L174.7,74.9 L173.7,76.8 L172.1,78.2 L169.6,79.2 L167.7,79.6 L167.7,81.1 L164.9,82.1 L162.2,82.7 L161.6,84.2 L158.3,84.0 L155.0,84.4 L155.6,85.8 L159.3,87.0 L160.3,88.3 L161.8,89.7 L162.0,92.8 L161.4,95.1 L157.3,95.1 L153.1,94.6 L148.0,94.4 L145.5,95.5 L146.2,97.3 L146.4,99.0 L146.6,102.0 L164.5,102.0 L166.1,100.0 L168.6,99.4 L171.0,98.1 L170.8,95.9 L172.7,94.8 L175.8,95.5 L178.8,94.6 L181.9,93.2 L184.4,93.6 L186.0,95.9 L187.5,97.1 L190.2,98.6 L192.2,99.6 L193.2,100.4 L194.3,102.0 L202.5,102.0 L201.3,100.8 L199.2,99.8 L197.3,98.1 L193.6,96.9 L192.2,94.6 L189.9,92.6 L189.7,90.9 L192.6,90.5 L192.8,92.0 L195.7,93.6 L198.2,94.8 L201.7,96.7 L203.5,97.9 L204.3,100.0 L204.5,102.0 L212.8,102.0 L211.3,100.8 L213.8,100.4 L217.9,100.4 L218.5,101.8 L221.0,101.0 L223.9,100.2 L223.0,99.6 L222.0,97.9 L221.4,96.7 L222.0,95.5 L223.2,94.2 L223.7,92.0 L225.3,91.1 L226.5,90.1 L228.6,88.5 L230.9,89.1 L233.3,89.7 L231.5,90.7 L232.7,91.6 L233.3,92.8 L235.4,92.4 L237.4,91.6 L239.5,91.1 L237.4,90.7 L236.4,89.3 L239.5,88.3 L243.0,87.4 L245.0,87.2 L243.0,88.7 L241.8,89.7 L241.1,91.1 L239.9,91.4 L241.5,92.4 L244.2,93.2 L246.7,95.1 L249.8,97.9 L250.0,99.0 L247.7,100.0 L245.7,99.8 L241.5,100.0 L238.5,98.6 L235.4,97.9 L232.3,97.9 L229.2,99.4 L226.1,99.6 L224.3,99.6 L223.9,102.0 L289.9,102.0Z M152.7,81.3 L157.3,80.9 L162.4,80.0 L167.1,79.0 L168.0,76.1 L165.1,74.5 L163.8,72.9 L161.4,70.8 L160.1,69.2 L159.1,68.3 L160.8,66.1 L157.9,63.8 L154.2,63.8 L152.7,65.9 L152.9,68.1 L153.1,70.4 L154.2,71.6 L157.5,71.4 L158.3,73.7 L158.3,74.7 L155.0,74.7 L155.8,75.9 L156.0,77.0 L153.8,77.8 L155.8,78.4 L158.3,78.6 L155.6,79.2 L153.8,80.3Z M151.9,77.0 L151.9,74.3 L152.9,72.4 L151.9,70.8 L149.4,70.4 L147.2,71.4 L144.1,72.9 L144.5,74.7 L143.3,77.2 L144.9,78.2 L148.0,78.0 L151.3,77.0Z M182.1,99.2 L183.8,99.2 L184.0,95.9 L182.1,97.1Z M181.3,102.0 L184.4,102.0 L184.6,99.6 L181.3,100.0Z M186.7,70.6 L190.2,70.6 L189.7,68.9 L187.7,69.4Z M201.9,67.1 L203.3,65.9 L203.1,65.2 L201.7,66.1Z M-2.0,13.4 L10.0,13.3 L25.0,13.4 L40.0,13.4 L60.0,13.0 L80.0,12.6 L96.0,12.3 L104.0,12.2 L112.0,12.4 L118.0,13.6 L126.0,14.8 L133.0,15.6 L138.5,16.4 L134.0,18.2 L129.0,20.2 L126.0,22.6 L125.5,25.0 L123.5,28.5 L120.5,32.0 L118.5,36.0 L116.0,39.8 L111.2,42.0 L104.0,43.3 L98.0,44.2 L91.0,47.0 L85.6,48.6 L81.3,51.3 L78.3,54.9 L76.1,58.6 L73.2,60.4 L68.8,59.7 L65.2,58.6 L61.5,56.4 L59.0,54.0 L57.5,51.0 L56.2,47.5 L55.0,44.0 L53.3,41.0 L51.2,37.8 L48.3,34.5 L45.3,31.2 L42.0,28.6 L38.0,27.8 L33.4,27.9 L27.0,27.4 L21.1,27.1 L16.0,25.5 L12.9,25.3 L9.0,24.5 L6.0,25.6 L3.5,27.6 L1.5,29.0 L-2.0,29.5Z M-2.0,31.8 L2.0,31.4 L6.2,33.3 L9.5,35.2 L12.9,36.9 L17.0,37.6 L21.1,38.6 L24.5,40.5 L27.6,42.6 L31.0,44.3 L34.2,46.0 L37.3,47.6 L35.0,49.2 L33.2,50.2 L31.0,51.8 L31.7,54.0 L31.4,56.5 L29.6,58.6 L30.4,60.0 L32.0,61.0 L33.5,62.3 L35.0,64.2 L36.7,66.3 L38.8,68.6 L40.9,70.5 L44.1,72.2 L46.5,73.4 L48.3,74.9 L49.2,77.2 L48.5,78.8 L46.5,80.0 L44.0,80.6 L42.0,81.6 L38.0,81.3 L33.0,81.0 L28.0,81.6 L24.0,82.8 L20.0,84.8 L16.0,87.3 L12.0,90.4 L10.5,91.8 L12.8,91.0 L17.0,88.7 L21.0,87.2 L24.5,86.0 L26.6,86.2 L26.2,87.6 L27.6,88.6 L30.0,89.0 L33.0,88.4 L36.0,87.4 L38.6,87.2 L41.1,87.7 L39.5,89.3 L36.5,90.4 L33.5,91.8 L31.0,93.3 L28.8,94.8 L27.6,93.6 L25.8,93.0 L27.5,91.6 L25.0,92.0 L23.6,94.5 L21.7,96.0 L20.8,97.3 L22.0,98.2 L20.6,98.9 L18.5,99.3 L15.5,100.0 L13.5,100.7 L11.0,103.0 L-2.0,103.0Z M42.2,86.6 L43.6,84.9 L44.6,83.5 L45.6,82.2 L46.5,80.6 L48.2,79.3 L49.6,78.7 L50.5,79.6 L49.8,80.6 L51.3,81.0 L53.6,81.6 L54.8,82.6 L55.5,84.2 L55.9,85.4 L56.6,86.0 L56.3,87.7 L54.6,88.3 L53.6,87.6 L51.8,87.9 L50.7,87.4 L49.4,86.8 L47.5,86.4 L45.5,86.6Z M32.0,88.0 L36.0,88.2 L37.0,88.9 L34.5,88.8 L32.5,88.7Z M31.8,82.2 L37.2,83.2 L37.0,83.9 L32.8,83.0Z" fill="#e5e5e5" stroke="#333" stroke-width="0.95" stroke-linejoin="round"/>
<path d="M-2.0,23.3 L2.4,23.6 L3.0,27.0 L2.4,30.6 L-2.0,30.6Z M7.0,20.2 L14.0,19.8 L13.0,22.8 L7.5,23.2Z M-2.0,52.5 L3.0,51.8 L7.0,52.6 L10.6,53.4 L15.0,54.6 L19.0,55.9 L21.4,56.4 L25.0,57.5 L28.0,58.6 L30.6,59.6 L29.8,60.6 L27.0,60.2 L28.5,62.5 L27.5,64.2 L24.5,64.6 L22.2,63.0 L21.3,61.2 L20.5,60.0 L16.0,58.8 L12.0,58.0 L8.0,56.8 L4.0,56.0 L1.5,55.4 L-2.0,55.4Z M-2.0,58.0 L2.5,58.4 L3.6,60.5 L5.5,62.5 L5.8,65.5 L4.0,68.0 L4.8,70.5 L3.5,73.0 L2.0,75.0 L-2.0,76.0Z M-2.0,40.5 L2.0,41.2 L4.2,43.0 L8.0,44.5 L12.0,45.3 L14.0,46.8 L10.0,47.6 L6.0,47.2 L4.0,48.5 L4.5,50.4 L2.0,51.0 L-2.0,50.8Z M22.8,47.0 L27.0,47.6 L31.0,48.6 L35.5,48.8 L33.5,50.0 L29.0,50.2 L25.0,49.4 L22.5,48.4Z M23.0,51.8 L27.0,52.4 L30.5,53.4 L29.5,54.4 L26.0,53.8 L23.5,52.9Z" fill="#fff" stroke="#333" stroke-width="0.95" stroke-linejoin="round"/>
<path d="M-1.0,17.5 L5.0,17.3 M21.0,17.2 L30.0,16.8 L38.0,16.5 M2.0,21.5 L10.0,20.6 L20.0,20.8 L31.6,20.1 M14.0,24.3 L20.0,24.6 L27.0,24.5 M40.0,15.0 L46.0,14.8 L52.0,15.4" fill="none" stroke="#333" stroke-width="2.2" stroke-linejoin="round"/>
<path d="M-1.0,17.5 L5.0,17.3 M21.0,17.2 L30.0,16.8 L38.0,16.5 M2.0,21.5 L10.0,20.6 L20.0,20.8 L31.6,20.1 M14.0,24.3 L20.0,24.6 L27.0,24.5 M40.0,15.0 L46.0,14.8 L52.0,15.4" fill="none" stroke="#fff" stroke-width="0.8" stroke-linejoin="round"/>
<path d="M137.0,16.6 137.7,20.6 135.3,17.3 132.8,13.8 133.7,18.0 132.1,16.8 132.0,18.8 128.9,14.4 130.4,19.6 128.4,17.6 128.8,20.4 125.8,18.1 127.3,21.5 124.3,19.3 126.0,22.7 123.7,23.2 125.6,24.5 120.5,22.8 124.9,26.1 120.2,24.5 124.0,27.7 122.0,27.5 122.9,29.2 119.2,27.2 121.7,30.6 119.9,30.2 120.5,32.0 116.9,31.1 119.7,33.6 114.4,31.9 118.9,35.2 113.6,33.2 118.0,36.8 113.2,34.7 117.0,38.3 111.7,35.9 116.0,39.8 114.4,38.4 114.3,40.6 112.5,38.7 112.7,41.3 110.4,38.5 111.0,42.0 109.6,39.4 109.2,42.4 107.8,39.3 107.4,42.7 105.8,38.8 105.7,43.0 103.8,37.7 103.9,43.3 102.1,37.8 102.1,43.6 100.3,37.8 100.3,43.9 99.0,41.8 98.5,44.1 95.5,38.9 96.7,44.7 94.4,41.3 95.1,45.4 93.3,43.4 93.4,46.1 91.0,42.6 91.7,46.7 90.3,45.4 90.0,47.3 87.4,41.9 88.2,47.8 85.9,43.2 86.5,48.3 85.0,46.5M42.0,28.6 43.6,28.1 43.4,29.7 45.1,29.1 44.8,30.8 47.3,29.8 46.1,32.1 49.6,30.2 47.3,33.5 49.3,32.9 48.6,34.8 50.6,34.2 49.8,36.2 51.4,35.9 51.0,37.5 55.0,35.9 52.0,39.0 55.7,37.7 53.0,40.5 54.9,40.4 53.9,42.1 57.1,41.3 54.8,43.7 58.9,43.2 55.5,45.3 57.0,45.8 56.0,47.0 59.5,46.7 56.7,48.8 58.5,49.0 57.3,50.5 58.8,50.7 58.0,52.1 62.1,51.1 58.9,53.7 60.8,52.9 60.1,55.0 62.8,53.5 61.4,56.3 64.2,53.4 62.9,57.2 65.0,55.6 64.5,58.2 66.2,56.3 66.1,58.9 67.6,57.2 67.9,59.4 69.0,58.6 69.6,59.8 71.0,56.8 71.4,60.1 72.8,57.4 73.2,60.4M60.0,13.0 60.9,14.6 61.8,13.0 62.8,14.9 63.6,12.9 64.6,14.8 65.4,12.9 66.4,14.1 67.2,12.9 68.2,14.3 69.0,12.8 70.0,13.6 70.9,12.8 71.8,13.7 72.7,12.7 73.6,14.1 74.5,12.7 75.4,13.6 76.3,12.7 77.2,14.5 78.1,12.6 79.0,13.4 79.9,12.6 80.8,13.4 81.7,12.6 82.6,13.3 83.5,12.5 84.5,14.3 85.3,12.5 86.2,13.4 87.1,12.5 88.1,14.3 88.9,12.4 89.9,14.4 90.7,12.4 91.7,13.9 92.6,12.4 93.5,14.3 94.4,12.3 95.3,14.3 96.2,12.3 97.1,13.3 98.0,12.3 98.9,13.1 99.8,12.3 100.7,12.9 101.6,12.2 102.5,13.7 103.4,12.2 104.3,13.8 105.2,12.2 106.1,13.3 107.0,12.3 107.9,13.6 108.8,12.3 109.7,13.6 110.6,12.4 111.5,13.1 112.4,12.5 113.2,13.3 114.2,12.8 114.8,14.8 116.0,13.2 116.5,15.0 117.8,13.6 118.4,15.1 119.6,13.8 120.3,14.6 121.3,14.1 121.9,16.2 123.1,14.4 123.8,16.1 124.9,14.6 125.5,16.7 126.7,14.9 127.5,16.1 128.5,15.1 129.2,16.9 130.3,15.3 131.0,17.0 132.1,15.5 132.8,17.4M175.8,56.2 177.3,57.6 177.5,55.5 178.7,56.1 179.2,54.8 180.7,55.9 180.8,54.0 182.4,55.3 182.5,53.3 184.0,54.7 184.2,52.6 185.9,53.9 185.8,51.8 187.3,52.4 187.4,50.8 189.2,51.6 188.8,49.7 190.6,50.3 190.2,48.5 191.6,48.4 191.3,47.0 193.2,47.0 192.2,45.4 193.5,45.9 193.7,44.4 195.5,45.5 195.3,43.5 196.7,44.1 196.9,42.6 198.1,43.2 198.7,42.1 199.9,42.8 200.4,41.4 201.8,42.5 202.1,40.7 203.3,42.1 203.9,40.3 205.2,42.2 205.7,39.9 206.8,41.2 207.5,39.7 208.6,41.2 209.3,39.4 210.6,41.4 211.1,39.1 212.2,40.0 212.9,38.7 214.0,39.6M174.5,60.5 175.4,59.7 174.7,58.7 175.5,58.1 175.3,57.0 176.7,56.7M2.0,31.4 1.8,34.0 3.7,32.2 3.7,34.3 5.3,32.9 5.6,34.4 6.9,33.7 7.2,35.2 8.5,34.6 8.5,36.5 10.1,35.5 10.2,37.4 11.7,36.3 11.6,38.7 13.4,37.0 14.1,38.3 15.2,37.3 15.9,38.7 17.0,37.6 17.3,40.1 18.8,38.0 19.4,39.2 20.5,38.5 20.3,41.0 22.2,39.2 22.1,41.3 23.8,40.1 23.6,42.2 25.3,41.1 25.0,43.2 26.8,42.1 26.6,44.2 28.4,43.0 28.4,45.0 30.0,43.8 30.4,45.0 31.7,44.6 31.7,46.5 33.3,45.5 32.9,48.1 34.9,46.3 34.7,48.6 36.5,47.2 37.9,46.5M30.4,60.0 30.6,61.4 31.9,61.0 31.4,62.9 33.3,62.1 32.9,63.6 34.5,63.5 34.5,64.7 35.6,65.0 35.0,66.6 36.8,66.4 36.5,67.8 38.0,67.7 37.7,69.2 39.2,69.0 39.4,70.2 40.6,70.2 41.0,71.4 42.1,71.2 42.0,73.3 43.7,72.0 43.8,73.9 45.3,72.8 45.4,74.7 46.9,73.7 47.0,75.1 48.3,74.9" fill="none" stroke="#333" stroke-width="0.7" stroke-linejoin="round"/>
<path d="M225.4,96.8 C227,95 228.5,94.5 229.6,94.7 C231.5,95 232.5,96 233.8,95.8 C235.5,95.5 236.5,94 238,94.2 C240,94.5 241,96 242.2,96.3 C244,96.8 245,97.5 246.4,98.4" fill="none" stroke="#b797c5" stroke-width="1.8"/>
<rect x="50.4" y="56.9" width="41.5" height="24.6" fill="none" stroke="#000" stroke-width="1.2"/></svg>
<rect x="36.5" y="315.5" width="287.8" height="100.6" fill="none" stroke="#000" stroke-width="0.7"/>
<line x1="77.61" y1="416.1" x2="77.61" y2="419.6" stroke="#000" stroke-width="0.65"/>
<line x1="139.29" y1="416.1" x2="139.29" y2="419.6" stroke="#000" stroke-width="0.65"/>
<line x1="200.96" y1="416.1" x2="200.96" y2="419.6" stroke="#000" stroke-width="0.65"/>
<line x1="262.63" y1="416.1" x2="262.63" y2="419.6" stroke="#000" stroke-width="0.65"/>
<line x1="324.30" y1="416.1" x2="324.30" y2="419.6" stroke="#000" stroke-width="0.65"/>
<line x1="33.0" y1="335.3" x2="36.5" y2="335.3" stroke="#000" stroke-width="0.65"/>
<line x1="33.0" y1="376.4" x2="36.5" y2="376.4" stroke="#000" stroke-width="0.65"/>
<svg x="382.1" y="315.5" width="287.8" height="100.6" viewBox="0 0 287.8 100.6" overflow="hidden"><rect width="287.8" height="100.6" fill="#fff"/><rect width="287.8" height="100.6" fill="#40004b"/>
<path d="M0.5,0 288,0 288,101 0,101 0,0 0.5,0ZM73.6,7 71.9,8 71.1,10 71,30.5 71.3,32 72,33 74.5,34.1 76,33.4 78.5,29.9 81,28.8 97.5,28.7 104.5,29.1 106,28.5 108.6,25 111,23.6 117,23.5 123,24.5 124.5,23.5 126.2,19.5 128,18 130.5,17.4 141,17.2 143.5,16 144.4,14.5 143.7,11 143.1,9.5 141.5,8.2 139.5,7.7 123,7.3 115,6.6 77,6.6 73.6,7ZM151.2,13.5 150,14.5 149.6,16 150.9,21.5 152,23.5 153,24.1 154,24.1 158.5,22.5 160,21.5 160.5,20.5 160.2,19 156.6,15 153.5,13.1 152.5,13.1 151.2,13.5ZM56.1,23.5 54.4,24.5 52,28 48.4,30.5 46,34 42,37 41.5,38.1 41.4,39.5 42,40.9 43,42 46,42.9 50.5,42.7 57,39.8 60.2,35.5 64.7,33.5 66,32.5 66.1,31.5 65.5,30.5 62,28 59.5,24.4 58,23.5 56.1,23.5ZM145.6,57 144,58 144.5,59.5 148,62 150,65 151,65.9 152.5,66.4 154,65.5 154.9,64 155.3,62.5 155.4,59.5 154.9,58 153.5,57.1 152,56.8 145.6,57Z" fill="#71267e" fill-rule="evenodd"/>
<path d="M0.5,0 60,0 59.6,3.5 58,5.3 56,5.9 51,6.3 49.6,7 48.7,8 48,10.5 47.9,20 46.9,22.5 45,23.7 40.5,24.1 39,24.5 37.2,26 36.3,27.5 36.1,32 37.4,38.5 36.8,43 37,44 38,44.8 39.5,45.2 47.5,45.9 51,45.5 54,43 57.5,41.2 58.9,40 61,37 62.5,36 69,34.3 73.5,35.8 75.5,35.9 77.1,35 79.7,31.5 81.5,30.6 98,30.5 105.5,31.6 107,31.2 108.1,30.5 111,26.4 112.5,26 116,26 119.1,27 124.5,31 127.2,34.5 128.5,34.9 131.3,32.5 132,30.5 131.6,26.5 128.5,22.5 128.7,21 129.5,20.3 131,20 141,19.8 146.5,19 147.8,20.5 149.5,26.1 151,27.9 152.5,28.8 153.5,28.4 155.8,26 161.2,22.5 163,20.5 162.8,19 161.1,16 159.5,14.1 157.5,12.6 153,10.5 147.5,11.1 144.4,8 141,6.4 134.5,5.6 123,5.5 115.5,4.1 75.5,4 74,3.7 72.7,3 72.2,2 72,0 288,0 288,101 268.4,101 268.3,88 267.5,86.3 264,84 262.8,82 262.4,79.5 262.3,63.5 261.5,61.3 259,58.5 258.1,56.5 258,34.5 257.7,33 257,31.6 256,30.7 254.5,30.1 249,29.8 245.6,28 243.5,27.3 231.5,26.4 229.5,26.9 228.3,28 228,31.5 228.7,34 229.6,35 232.9,37.5 233.9,40 234.1,90.5 234.9,92 240,93.6 241.5,94.6 242.7,97 243.1,101 0,101 0,30 8,29.9 14,28.6 21,28.3 22.8,27.5 23.4,26 22.3,21.5 21.5,20.4 20.5,19.9 10,20.2 0,19.6 0,0 0.5,0ZM176.3,49 175,50.3 174.6,51.5 175.5,56.5 175.7,62 176.5,63.7 179.5,65.6 180.8,67 181.4,69 181.7,73 182.1,74 184,74.8 188,74.9 199.5,74.9 201,74.6 201.9,74 202.3,73 202.4,71 202.2,69.5 201.7,68.5 198,66 195.5,62.3 192,60 189.5,56.3 186,54 183.7,50.5 182,49.5 178.5,48.7 177.5,48.6 176.3,49ZM139.8,56 138.3,57 134.4,61.5 133.6,63.5 132.1,69.5 132.1,79.5 133,81 135.5,82.3 139.5,82.4 141.5,81.6 144,78 147.7,75.5 150,72 151.5,71 154.5,69.8 156,68.7 157,67 157.6,64.5 157.8,59 157.1,57.5 156,56.8 154,56.1 151.5,55.8 142,55.7 139.8,56Z" fill="#9363a4" fill-rule="evenodd"/>
<path d="M18,0 36,0 35.9,19.5 35.2,21.5 33.5,23.2 31,24 27.5,23.6 26.4,22.5 24.4,18.5 23.4,17.5 22,16.9 20.5,16.8 15,17.9 10.5,18 7.5,17.7 2.5,16.5 0,16.4 0,6 2.5,5.9 8,4.6 14,4.4 16,4 17,3.5 17.7,2.5 18,0ZM120.5,0 288,0 288,101 271.6,101 271.3,86.5 270,84 266.3,81.5 265.6,79.5 265.5,63 264,55 263.9,28 263.2,26.5 261.5,24.8 260,24.1 258,24 256,24.3 252.5,26.1 249.5,26.7 236.5,25.5 230.5,24.3 222.5,25.6 207.5,25.5 201.5,24.6 200.5,25.2 200,26 198.5,32 198.8,34 200,35.3 201.5,35.9 206,36.1 207.5,36.4 208.9,37.5 209.7,39 210,41.5 210,71.5 210.3,73.5 211.6,74.5 215.5,75.6 217.1,76.5 217.9,77.5 219.4,80.5 223,82.4 223.9,83.5 225.4,86.5 228.5,88.1 229.5,88.9 230.9,92 231.7,93 238,94.5 240,95.6 241.3,97.5 241.8,101 0,101 0,58.4 2.5,58.1 4,56.8 5,49.5 6,48 9,46.1 10.1,45 11.8,39 12.2,34 12.8,33 14,32.1 16.5,31.6 21.5,31.8 23.5,32.6 27,35.5 32.5,36.4 33.6,37.5 33.9,39.5 33.3,41 31.3,43.5 31.6,44.5 33.3,45.5 35.5,46.1 45,47.9 47.5,48 50.5,47.9 52,47.3 55.4,44 59.5,41.6 62,38 63.5,37.1 69,36.3 74,37.9 76,38 78.5,37 80.6,33.5 82,32.5 98.5,32.5 100.5,33.1 101.8,34.5 102.1,44.5 103,46.4 104.4,47.5 107,48 127,48 128.5,47.3 129,46.1 129.3,40 129.8,38 131,36 132.5,34.6 135.5,33.3 142,32.7 146.5,30.7 152,32.8 153.5,32.9 155.1,32.5 156.5,31.3 157.5,28 158.5,26.5 165,20.9 165.3,20 165.1,18.5 163.3,15 159,10.7 155.5,8.7 152.5,7.6 147.5,7.3 143,5.4 135,3.8 123,3.5 121.6,3 120.4,2 120,0 120.5,0ZM187.8,37 181.9,39 180.7,40 180.2,41.5 180.5,42 187,42 190,41.3 191.4,39.5 191.2,38 190.5,37.2 189.5,36.7 187.8,37ZM176.5,42.5 174.6,44 172,47.4 171,49.5 170.7,52 172.2,57 172.8,64 174,66 177,67.9 178,69 178.6,73.5 179.2,74.5 180.9,75.5 182.5,76 188,76.2 200.5,76.1 203.1,75.5 204.8,74.5 205.5,73 205.5,69.5 205,67.5 204,66 200.5,63.7 198,60 194.5,57.7 192,54 188.3,51.5 186,48 180.9,45 180.3,44 180,42.2 178.5,42.1 176.5,42.5ZM91.7,49 90.3,51 90.1,55.5 91,57.8 92,58.7 93,59 94.5,58.3 95.7,56.5 95.9,52 95.5,50.5 94.5,49.1 93,48.6 91.7,49ZM134.4,51 132.7,51.5 132.1,52.5 131.8,57 130.3,63 129.5,64.6 128,65.8 122.5,66.5 121.2,67.5 120.8,69 121.7,70.5 125.3,74 125.9,75.5 126.3,80 127.5,81.5 134.5,85.1 136.5,85.4 140.5,85.3 142.5,84.4 146.5,80.2 150,78 152.5,74.3 154,73.5 158,72.3 161,69.5 161.6,68.5 162,67 161.9,59 160.7,57.5 157,56 153.5,55.3 144.3,54.5 138.7,52 134.4,51ZM45.4,62 45.1,63 45.5,64.6 46.5,65.5 47.5,65.8 47.9,65 47.4,63 46.5,61.9 46,61.7 45.4,62ZM48.1,66.5 48.7,68.5 50.5,70.6 52.5,71.8 53.5,71.9 53.9,71.5 53.4,69 52,67.3 50,66.2 48.5,66.1 48.1,66.5ZM54.1,72.5 54.4,74 55.4,75.5 59.2,79.5 61.2,81 63.5,81.8 67,82.1 68.5,82.1 69.4,81.5 69,80.2 66,78 64,75 63,74 56.5,72.2 54.5,72.1 54.1,72.5ZM116.5,80.5 116.1,81 116.5,81.5 117.5,81.5 118.1,81 117.5,80.3 116.5,80.5ZM73.6,84.5 72.8,85 72.3,86 71.1,92 72,93.3 74,93.9 75,93.7 76,92.6 78.3,87 77.9,86 76.5,84.9 75,84.4 73.6,84.5Z" fill="#b797c5" fill-rule="evenodd"/>
<path d="M138.5,0 288,0 288,37.6 284,37.2 282.6,36.5 281.6,35.5 280.6,33 280.2,27.5 279,26 273,24.2 267.5,23.8 264.6,22 262.1,21 259.5,20.7 256,20.8 254.8,21.5 252,24.4 250.5,25.1 248.5,25.4 236.5,24.4 229.5,22 223.5,22.4 208,22.4 206,21.9 204.5,20.6 204.1,19.5 203.7,16 202.5,14.6 200.5,13.7 196.5,13.6 195,14.1 194,15 192.5,20.5 193,22.4 195.8,25.5 196,27 195.5,28.6 194,29.8 190,30.4 186.5,34.1 183.2,36 177.5,38.2 172,38.6 170.5,39.2 170,40.5 170.3,44 170.1,46 168.2,53.5 167,55.2 165.5,55.9 164,55.9 145.5,53.8 143.5,53 140.1,50.5 133.5,48.9 132,48 131.1,46.5 130.8,44 130.8,40 131.5,37.8 133.5,35.7 136,34.8 147,33.6 154,34.3 158,33.7 160.1,33 160.6,32 160,29 160.2,27 161.9,25 166.6,21.5 167.2,20 167.5,16 166.8,14.5 164,12.4 160,8.4 158,7 153,4.7 147,4.3 140.2,3 139.1,2.5 138.2,1.5 138,0 138.5,0ZM8.5,7.9 14,7.6 15.5,7.8 17,8.5 17.7,9.5 17.9,10.5 17.7,14 16.5,15.1 14,15.8 9.5,15.7 7.3,15 6.1,13.5 6.1,10.5 6.8,9 8.5,7.9ZM20,36.9 21.5,37 23.2,38.5 23.9,40 24.2,44 24.9,45 25.8,45.5 31.5,47 40,48.2 45,49.9 47,50.2 51.5,50 54,49 57,45.1 61,43 62.6,40 63.5,39 67.5,38.3 70,38.6 72.1,40 73.1,42.5 73.4,45.5 72.5,51 73.1,52.5 76.5,55 79.5,57.8 85.7,59.5 89.4,62 92,63.1 94.5,63.1 96.8,62 100.5,59 103,55.6 104.5,54.4 108.5,54 111.6,54.5 113.2,56 113.4,57.5 112.5,58.9 109.6,61 108.4,62.5 108,64.5 108.2,68 108.8,69 110.2,70 116.5,71.9 118,73.1 118.9,74.5 118.6,75.5 118,76 111.1,79.5 109.3,81 109.4,82 110.1,83 111.5,84.1 113,84.7 117,85.2 123,82.9 124.5,83.3 131.5,86.5 134.5,87.4 139,87.5 142.5,87 145,86 148.4,83.5 153.1,82 154.1,81 156,78 159.5,75.8 163.5,71.6 165.5,70.9 167.5,71.6 169.5,74 171,75 176.5,75.4 183,77 200.5,77.1 206.5,75.7 208.5,75.7 213.5,76.6 215.5,77.6 218.5,81.7 222,84 224.5,87.7 228,90 230.5,93.7 232.1,94.5 237.5,95.4 239.3,96.5 240.6,98.5 240.9,101 0,101 0,61.5 3,61 6.4,58 7.4,56 8,51 8.8,50 11.4,48.5 12.4,47.5 14.5,43.2 17,40.5 19,37.6 20,36.9ZM44.8,55.5 43.5,57.6 42.9,62 43.4,66.5 44.5,69.1 48,72 50.8,75.5 54,78 57.5,82.4 60,83.4 67,84.9 69,86 69.5,87 69.4,88 68.1,92 68.4,93 69,93.7 70.5,94.5 73,95.2 74.5,95.1 75.8,94.5 76.6,93.5 78.7,89.5 81.2,87 81.4,86.5 81,85.5 78.5,83.7 73.7,81 71.5,78.5 68,75.5 65,72 60.3,69 58.5,67.5 47,55.6 46,55 44.8,55.5Z" fill="#dac3df" fill-rule="evenodd"/>
<path d="M156.5,0 288,0 288,34.4 285.5,34.2 284,33 283.6,31.5 283.3,26.5 282,24 280.4,23 274.5,21 267.5,20.4 261.5,19.3 256.5,19.3 254.5,19.9 251.7,23 249.5,24.2 247.5,24.3 238,23.6 234.5,22.5 232.5,21 231.9,19.5 231.6,16 231,15.1 230,14.6 208,13.5 206,13 201.5,10.9 199.5,10.5 196,10.6 194,11.3 192,13 189.5,16.5 188,17.1 183.9,14.5 174.5,13.2 165.5,10.2 164,9 161.5,5.6 157,3 156.1,1.5 156,0 156.5,0ZM171.5,16.8 173,16.8 176,17.6 180.7,20.5 186,22.4 187,23.2 187.8,24.5 188.2,27 187.3,29.5 185.6,32 183.8,33.5 181.2,35 177,36.6 169,36.9 167.2,37.5 167,39 168.3,43 168.5,45.5 167.2,51 166.5,52.4 165.5,53.5 163.5,54.2 160,54.4 147,53.4 144.5,52.4 141,49.5 135,47.9 132.9,46.5 132.1,44 132.2,39.5 133.2,37.5 135,36.3 146.5,34.9 153,35.4 165,35.4 165.5,34.7 165.5,33.5 165,32.5 162.3,29.5 161.8,28 161.9,27 163.5,25.1 167,23.3 168,22.5 169.9,18 171.5,16.8ZM68.5,43 69.7,44 69.9,45 69.7,46 68.5,47.4 66.5,47.9 66.1,47 66.5,44.5 67.5,43.2 68.5,43ZM25.5,48.4 28,48.2 38.5,49.3 41,50 42.4,51 42.6,52.5 41.1,56 40.8,58 41.7,67 42.7,70 46.7,73.5 49.5,77 52.7,79.5 55.2,83.5 56.5,84.9 58,85.6 62.5,86.2 64.5,87 65.2,88 64.8,91.5 65.1,93 67,94.8 69.5,96 73.5,96.4 75.5,95.9 77,94.5 79,90.9 80.3,89.5 87,86.5 87.1,86 86.6,85.5 79.5,81.5 76.6,79.5 67.5,70 66.2,67.5 66.1,66.5 66.5,66 74,65.8 78.5,62.5 81,61.8 92.5,65 99,64.7 100.5,65 102.4,66.5 104.3,70.5 105.5,72 107,72.8 111,73.9 112,74.5 112,75.2 111.2,76 106.5,77.4 105,78.2 103.5,79.7 102.9,81 103.6,82.5 107,86 109,87.5 111,88.3 116.5,88.4 123,86 135,89.1 141.5,88.7 148.5,87.3 155.5,84.4 156.5,83.4 158.3,80.5 162,78 164,75.1 165,74.6 169.3,76.5 176.5,76.8 183.5,78 200,78 208.5,77 212.5,77.5 214.7,78.5 217.8,82.5 221.2,85 223.8,88.5 227.2,91 230,94.7 232,95.5 236.5,96.1 238.5,97.1 239.6,98.5 240,101 0,101 0,64.5 2.5,64.3 4,63.5 9.5,58 11.5,54.6 12.6,53.5 15,52.6 19.5,52.4 21,52 23.5,49.4 25.5,48.4ZM62.5,48.5 65.5,48 66,48.5 66,65.5 65.5,65.9 63.5,65.6 62,64.8 58.5,61 55.7,58.5 54.8,57 54.9,56 55.5,55.1 58.5,53 61,49.6 62.5,48.5Z" fill="#f0e7f0" fill-rule="evenodd"/>
<path d="M174,0 288,0 288,20.2 280,20 262,18.1 256.5,18 254,18.7 251,22.1 249,23.2 244.5,23.2 238,22.5 236,21.9 234.4,20.5 233.8,15.5 232.8,14 231.5,13.2 225.5,12.1 218.5,11.9 212.5,10.5 207.5,10.3 205.5,9.5 202.5,7 200.5,6.1 196.5,6 194.5,6.4 193,7.4 189.5,11 188,11.9 183,11.9 178,10.8 175.3,9.5 174.2,8 174,0ZM171.5,20.7 172.5,20.6 175,21.6 182.5,23.2 184.4,24 185.6,25 186.3,26.5 186.3,27.5 185.7,29 183,31.9 178,34.7 176,35.2 172.5,35.2 169.5,34.5 168.5,33.5 167.3,31 164.5,29.2 163.6,27.5 164.5,26 166,25.5 168.5,25.8 170.5,27.1 171,26.8 171.2,25.5 170.9,22 171.5,20.7ZM141.5,36.5 147,36.1 157.5,36.7 160,37 162.3,38 165.2,41 166.8,44 166.8,46.5 165.4,51 163.6,52.5 160,53.3 148,52.8 145.5,51.9 141.5,48.4 136,46.9 134.5,46.2 133.6,45 133.3,43.5 133.3,40 133.9,38.5 136,37.2 141.5,36.5ZM27.5,50.4 37.5,50.9 39,51.4 39.3,52 39,53.1 36.8,56 36.5,57 36.8,58 39.1,62 39.9,69 40.4,71 42,73 45.3,75 47.5,78.6 51.3,81 53.8,88 53.9,90 51.5,90.4 50.5,91.2 50,92.1 49.6,94.5 49.6,101 0,101 0,67.6 3,67.4 5,66.8 6.4,65.5 8.5,62.4 12,60 14.5,56.3 16,55.7 20.5,55.5 22.5,55 24,54 26.2,51 27.5,50.4ZM81,64.9 87.5,65.4 92.5,66.6 97.5,67.3 99.5,68.2 100.5,70 101.3,73.5 101.3,75 100.4,76.5 96.7,80 96.2,81.5 96,83.5 96.2,84 98,84.2 99.5,84.8 105,89.8 108,91 111.5,91.5 116.5,91.4 122,89.1 123.5,88.8 129,89.3 135,90.6 147.5,89.4 150.5,90.3 152.5,92.8 153.5,93.5 157.5,93.8 159.3,93 161.5,89.4 165.2,87 165.8,85.5 166.2,80.5 167,79.2 168.5,78.4 171,78.1 175.5,78 183.5,78.8 199,78.9 209,78.2 212.5,78.6 214,79.3 217,83.2 220.5,85.8 223,89.2 226.5,91.8 229,95.2 231,96.3 236,96.9 237.5,97.5 238.8,99 239.1,101 54,101 54,90.3 54.5,90 56.5,90.2 58,90.7 60.9,93.5 67,97.1 69,97.9 71,97.9 74.5,97.4 76.4,96.5 77.8,95 80,91.2 81.5,90 86,88.7 92.5,87.8 95.2,86.5 95.9,85 95.9,84.5 95.5,84 88,82.6 85.5,81.6 82.6,79.5 78,74.7 76.9,71.5 76.9,69 78.5,66.5 81,64.9Z" fill="#e9f4e7" fill-rule="evenodd"/>
<path d="M216,0 288,0 288,18 273.5,18 262.5,16.9 256,16.8 253,17.7 250,21.4 248.5,22.2 243.5,22.2 238.9,21.5 237.4,21 236.4,20 235.8,15 235,13.5 233.5,12.3 231.5,11.4 225.5,10.1 219,9.6 216.7,8.5 216.1,7 216,0ZM182,6.9 183,6.6 184,6.9 184.7,7.5 184.8,8.5 183.5,9.3 181.9,9 181.2,8 182,6.9ZM176.5,24.4 179,24.3 183,25.1 184.5,26.5 184.4,28 183,29.6 177.5,33.1 175,33.5 171.8,33 171.4,32 173.3,29.5 174.5,26 175.3,25 176.5,24.4ZM142.5,37.5 147.5,37.3 153.5,37.6 157.5,38.1 159.9,39 164,43 165,44.5 165,46.5 163.9,49.5 162.5,51.1 159.5,52.2 153.5,52.5 148.5,52.1 146,51.1 143.9,48.5 142.5,47.4 136.5,45.6 135.4,45 134.8,44 134.7,42 134.9,40 135.5,39 138,38.1 142.5,37.5ZM84.5,67 87.5,67 91.4,68 93.9,69 94.5,69.5 94.7,70.5 88.5,76.9 87.5,77.3 86.5,77.1 82,73 80.8,71.5 80.2,70 80.2,69 81,68 82.5,67.3 84.5,67ZM171,79.4 175.5,79.2 183.5,79.8 199,79.8 207.5,79.3 212.5,79.8 214,80.9 216,84 219.7,86.5 222,90 225.7,92.5 227.5,95.4 228.5,96.4 231,97.4 236.5,98.1 237.7,99 238.2,101 120,101 120,95 120.5,93.5 122.5,91.9 125.5,91.1 129,90.9 135,92.2 141.5,91.2 147,91 149,92 151.5,94.9 153,95.7 157,96 159.5,95.6 161,94.4 163.5,91 167,88.4 167.9,86.5 168,82.5 168.5,81 169.4,80 171,79.4ZM85.5,89.9 88.5,89.6 97.5,90 99.5,90.7 101.2,92.5 101.9,94 102,101 72.1,101 72.6,100 77.5,97 81,91.6 82.5,90.8 85.5,89.9ZM44,90.9 45.1,91 46.1,92.5 46.4,101 42,101 42.1,93.5 42.7,92 44,90.9ZM110,96.8 111.5,96.6 112.9,97.5 113.7,99 114,101 108,101 108.4,98.5 110,96.8ZM61.5,98.3 62.5,98 64.1,98.5 65.3,99.5 65.9,101 60,101 60.3,99.5 61.5,98.3Z" fill="#c6e8c0" fill-rule="evenodd"/>
<path d="M248,6 288,6 288,15.8 280,15.9 273,16.6 265.5,15.4 255,15.3 252.5,15.9 251,16.7 248.5,20.6 247,21 243.5,20.8 241.9,20.5 240.4,19.5 239.8,15 238.1,12.5 235.5,10.6 230.4,9 229.3,8 230,6.8 232,6.1 248,6ZM177.5,26.8 180,26.7 181.2,27 181.3,27.5 179.3,28.5 177.5,28.8 176.8,28 177.5,26.8ZM142,39 152.5,38.9 156.5,40 158.3,41.5 161.2,45 161.3,46.5 160.5,49.5 159.7,50.5 158.7,51 155.5,51.6 151,51.5 147.5,50.6 144.7,46.5 139.4,44.5 138.3,43.5 138,42 138.3,40.5 139.6,39.5 142,39ZM86,69.5 87.5,69.3 88.1,70 87.5,70.8 86.5,70.8 85.8,70 86,69.5ZM172,80.9 211.5,81 213,82 214.1,84.5 214.9,85.5 218.6,87.5 220.1,90.5 220.9,91.5 224.6,93.5 226.1,96.5 227,97.6 230,98.8 235.5,99.2 236.5,99.8 236.8,101 138,101 138.3,94.5 139.3,93.5 141,92.9 145,92.6 146.9,93 149.5,96.6 152,97.9 158,98.1 161.5,97.3 163,96 165,92.7 168,91 169,90 170,87.5 170.4,82 171,81.3 172,80.9ZM85.5,91 87.5,90.7 89.9,91 93.1,92 95.5,93.2 96.3,94 96.9,95.5 97.5,101 76.5,101 77.1,99.5 79.1,97 81.2,93 82.5,92 85.5,91ZM128,93 130,93.1 130.9,93.5 131.8,94.5 132,101 126,101 126.2,94.5 126.9,93.5 128,93Z" fill="#91cf8f" fill-rule="evenodd"/>
<path d="M272,12.9 273.5,12.7 274.5,13.5 274.4,14 273.5,14.6 272.3,14.5 271.6,14 271.5,13.5 272,12.9ZM152,42.9 153,42.8 154,43.3 155.7,45.5 155.9,48.5 155.5,49.5 154.8,50 153.5,50.3 152,50.2 151,49.8 150.2,49 150,47 150.3,45 151,43.6 152,42.9ZM86,92 89,92.1 90.8,93 91.9,94 94.1,98 94.5,101 79.5,101 79.9,99 82.4,94 83.5,93 86,92Z" fill="#4fa459" fill-rule="evenodd"/>
<path d="M86,93.5 88,93.5 89.5,94.7 91.3,98 91.8,101 82.2,101 82.4,99 83.4,96.5 84.7,94.5 86,93.5Z" fill="#197334" fill-rule="evenodd"/>
<path d="M87,96.4 88,97 88.7,98 89.4,101 84.6,101 85.3,98 86,97 87,96.4Z" fill="#00441b" fill-rule="evenodd"/>
<path d="M40.5,2.4 61.0,2.4 61.0,4.4 40.5,4.4ZM51.0,11.0 72.0,11.0 72.0,12.9 51.0,12.9ZM72.0,7.3 129.0,7.3 129.0,10.2 72.0,10.2ZM149.0,15.0 166.0,15.0 166.0,22.0 149.0,22.0ZM133.7,28.2 142.1,28.2 142.1,33.1 133.7,33.1ZM135.2,58.4 153.4,58.4 153.4,60.8 135.2,60.8ZM231.0,32.4 242.0,32.4 242.0,34.6 231.0,34.6ZM82.6,95.3 88.2,95.3 88.2,99.5 82.6,99.5Z" fill="url(#stp)"/>
<g fill="#000"><rect x="133.40" y="72.35" width="1.2" height="1.3"/><rect x="135.40" y="72.35" width="1.2" height="1.3"/><rect x="137.40" y="72.35" width="1.2" height="1.3"/><rect x="133.90" y="74.85" width="1.2" height="1.3"/><rect x="136.40" y="75.35" width="1.2" height="1.3"/><rect x="133.40" y="81.35" width="1.2" height="1.3"/><rect x="135.40" y="81.35" width="1.2" height="1.3"/><rect x="137.40" y="81.35" width="1.2" height="1.3"/><rect x="133.40" y="83.35" width="1.2" height="1.3"/><rect x="135.40" y="83.35" width="1.2" height="1.3"/><rect x="37.90" y="41.85" width="1.2" height="1.3"/><rect x="39.90" y="39.85" width="1.2" height="1.3"/><rect x="41.90" y="37.85" width="1.2" height="1.3"/><rect x="43.90" y="36.35" width="1.2" height="1.3"/><rect x="39.90" y="43.85" width="1.2" height="1.3"/><rect x="41.90" y="41.85" width="1.2" height="1.3"/><rect x="43.90" y="39.85" width="1.2" height="1.3"/><rect x="45.40" y="38.35" width="1.2" height="1.3"/><rect x="4.90" y="27.35" width="1.2" height="1.3"/><rect x="6.90" y="25.85" width="1.2" height="1.3"/><rect x="8.90" y="24.35" width="1.2" height="1.3"/><rect x="10.90" y="23.85" width="1.2" height="1.3"/><rect x="32.40" y="27.85" width="1.2" height="1.3"/><rect x="34.40" y="27.85" width="1.2" height="1.3"/><rect x="33.40" y="29.85" width="1.2" height="1.3"/><rect x="35.40" y="29.85" width="1.2" height="1.3"/></g>
<path d="M0.5,12 37.5,12 39.6,12.5 41.3,14 42,17 42,23.5 41.5,24 10.5,24 8.5,24.4 7.1,25.5 6.3,27 6,29 6.1,56 7.1,58.5 10.5,61 13,64.4 14.5,65.6 17,66 31.5,66 33,66.3 34.5,67.1 37,70.5 40.5,73 43,76.5 46.5,79 49,82.5 52.4,85 53.3,86 53.9,88 53.9,92 53.3,94 52,95.3 49,96 27.5,96.1 26,96.7 24.7,98 24,101 0,101 0,12 0.5,12ZM74.5,12.4 77.5,12 139.5,12 141.5,12.4 142.9,13.5 143.7,15 144,17.5 143.5,18 135.5,18.1 134,18.7 133,19.6 132.1,21.5 131.9,26 131.3,28 130,29.4 127.5,31 125,34.5 121.6,37 120.4,38.5 120,40.5 119.9,50.5 119,52.4 117.6,53.5 115.5,54 111.5,53.9 109.6,53 108.5,51.6 108,49 107.9,34 107.5,32.4 106.4,31 105,30.3 103.5,30 88,30.1 85.5,31.1 83,34.5 79.6,37 78.4,38.5 78,41 78,55.5 77.7,57 76.9,58.5 75.5,59.6 74,59.9 63.5,59.9 61.5,58.9 59,55.5 55.5,53 53,49.5 49.6,47 48.7,46 48.1,44.5 47.9,40 47.5,38.4 46.4,37 43.5,34.9 42.3,33 42,24.5 42.5,24 61,24 63.5,23.6 65,22.4 67.5,19 71,16.5 73,13.6 74.5,12.4ZM284.5,12.5 288,12 288,18 285,17.7 283,16.3 282.6,15 282.8,14 284.5,12.5ZM144.5,18 146.5,18.2 148,18.8 149,19.6 149.7,21 150,24 149.7,27 148.9,28.5 147.5,29.4 146.5,29.4 145.5,28.9 144.3,27 144,18.5 144.5,18ZM188.5,18.4 191.5,18 247.5,18 249,18.3 250.4,19 251.2,20 251.4,21 250.5,22.9 247.5,25 244.9,28.5 243,29.7 240.5,30 202,30.1 199.6,31 196.9,34.5 195,35.4 193.5,34.9 192.4,33.5 192.1,32 191.9,27.5 191.3,26 190.4,25 187.6,23 186.8,22 186.6,21 186.8,20 188.5,18.4ZM282,24 288,24 288,101 180,101 179.9,94 179.3,92 177.5,90.4 174,90 171.5,90.1 169.5,91.1 167,94.5 163,97.6 162.3,99 162,101 150,101 149.7,99 149,97.6 145.6,95 144.8,94 144.6,92.5 146,90.7 147.5,90.1 152,89.9 153.5,89.6 154.9,88.5 155.4,87 154.5,85.1 151.5,83 149,79.5 145.5,76.9 144.3,75 144,72.5 144.1,63.5 145,61.6 146.4,60.5 148.5,60 163,60 165.5,59.6 166.9,58.5 169,55.6 170.4,54.5 172,54.1 176.5,53.9 178.4,53 181.5,49 185,46.5 187.1,43.5 188,42.7 189.5,42.1 193.5,42 195.5,42.4 197,43.6 199.5,46.9 201.5,47.9 222,48 225,47.7 226.5,46.9 229.1,43.5 231,42.3 241.5,42 243.5,41.6 245,40.4 247.1,37.5 249,36.3 265.5,36 267.5,35.6 269,34.4 271.5,31 275,28.5 277.5,25.1 279.5,24.1 282,24ZM134,42.8 135.5,42.6 136.5,43.1 137.5,44.5 137.9,46 138,49.5 137.5,51.5 136.5,52.9 135,53.4 134,53.2 133,52.4 132.1,50 132.3,45 133,43.6 134,42.8ZM62,84.8 63.5,84.6 65.2,86 65.4,87.5 64,89.2 62.5,89.4 60.8,88 60.6,86.5 62,84.8Z" fill="#fff" fill-rule="evenodd"/>
<rect x="0" y="0" width="150" height="1.3" fill="#dac3df"/>
<path d="M111.9,51.3 111.9,51.4 112.0,51.6 112.0,51.8 112.1,52.0 112.2,52.1 112.3,52.3 112.4,52.4 112.6,52.6 112.7,52.7 112.9,52.8 113.1,52.9 113.2,53.0 113.4,53.0 115.9,53.6 116.0,53.7 116.1,53.9 116.2,54.1 116.3,54.2 116.4,54.4 116.6,54.5 116.7,54.6 116.9,54.7 117.1,54.8 117.3,54.8 117.4,54.9 120.9,55.5 121.0,55.5 126.1,56.3 126.3,56.3 126.5,56.4 126.6,56.3 126.8,56.3 127.0,56.3 131.1,55.0 135.0,54.0 135.1,54.0 135.3,53.9 135.5,53.8 135.6,53.7 138.1,51.8 138.3,51.7 138.4,51.6 138.5,51.4 138.6,51.3 138.7,51.1 138.8,50.9 138.8,50.8 138.9,50.6 138.9,50.4 138.9,50.2 138.9,50.0 138.9,49.8 138.8,49.6 138.7,49.4 138.7,49.3 138.6,49.1 138.4,49.0 136.4,46.5 136.3,46.3 136.1,46.2 136.0,46.1 135.8,46.0 135.6,45.9 135.4,45.9 135.2,45.8 131.9,45.2 131.7,45.2 131.5,45.2 131.3,45.2 127.3,45.8 122.4,46.0 118.5,45.4 118.3,45.4 118.1,45.4 117.9,45.4 117.7,45.4 117.5,45.5 112.0,47.5 111.8,47.6 111.6,47.7 111.4,47.8 111.3,48.0 111.2,48.1 111.0,48.2 110.9,48.4 110.8,48.6 110.8,48.8 110.7,49.0 110.7,49.2 110.7,49.4 110.7,49.6 110.7,49.7 110.7,49.9 110.8,50.1 110.9,50.3 111.0,50.5 111.1,50.6 111.2,50.8 111.3,50.9 111.5,51.0 111.7,51.2 111.8,51.2 111.9,51.3Z" fill="#fff"/>
<circle cx="135.2" cy="66" r="1.4" fill="#fff"/><circle cx="149.4" cy="57.5" r="1.3" fill="#fff"/>
<path d="M112.7,49.4 L118.2,47.4 L122.3,48.0 L127.5,47.8 L131.6,47.2 L134.9,47.8 L136.9,50.2 L134.4,52.1 L130.5,53.1 L126.4,54.4 L121.3,53.5 L117.8,52.9 L118.2,52.1 L113.9,51.1 L117.2,50.4Z M149.0,56.8 L151.1,56.0 L151.5,57.0 L150.1,57.6Z M145.7,38.7 L148.0,37.9 L148.2,38.1 L146.2,38.7Z M187.1,22.7 L188.1,20.4 L193.2,20.2 L198.4,20.0 L201.5,20.6 L203.5,19.8 L208.7,19.2 L213.8,19.0 L221.0,19.6 L220.0,21.3 L212.8,21.9 L208.7,22.7 L210.7,24.3 L207.6,25.2 L201.5,26.0 L198.4,27.0 L195.3,26.0 L193.2,24.8 L189.1,23.7Z M255.9,19.2 L261.1,18.0 L269.3,16.7 L277.5,16.3 L287.8,15.9 L294.0,16.5 L291.9,18.2 L283.7,19.2 L275.5,19.8 L265.2,19.8Z M289.9,26.4 L283.7,28.0 L279.6,29.5 L277.9,31.5 L274.4,33.2 L273.4,34.8 L272.2,37.1 L273.4,38.3 L276.5,38.9 L280.6,39.1 L282.9,38.7 L279.6,37.1 L279.2,35.2 L282.2,33.6 L287.8,32.2 L289.9,31.1Z M284.3,40.2 L285.7,39.6 L288.8,40.6 L287.8,41.2 L285.3,40.6Z M263.7,42.2 L266.2,41.4 L267.2,42.4 L265.2,42.8Z M289.9,102.0 L289.9,42.4 L288.2,41.2 L286.2,43.5 L283.7,43.3 L280.6,43.5 L277.5,43.9 L275.1,42.6 L274.4,43.9 L271.4,43.7 L267.2,44.5 L264.2,45.3 L260.0,44.3 L257.4,43.3 L254.9,43.7 L254.1,45.7 L255.5,48.0 L252.9,48.4 L251.4,47.6 L248.7,48.6 L247.1,50.7 L243.6,51.3 L240.9,50.7 L239.5,51.5 L241.1,52.7 L237.4,52.3 L235.8,51.7 L235.2,49.6 L236.2,48.6 L232.9,47.4 L231.1,46.3 L235.4,47.4 L239.5,48.2 L243.6,48.6 L247.7,47.8 L249.4,46.1 L247.7,45.1 L244.6,44.3 L240.5,42.8 L236.4,42.0 L232.3,41.6 L229.2,40.8 L226.1,40.4 L223.0,38.5 L218.9,38.3 L217.3,38.1 L213.8,38.5 L209.7,39.3 L205.6,40.0 L202.5,40.6 L199.4,41.8 L196.3,42.8 L194.3,44.1 L192.2,45.3 L191.0,47.6 L189.7,49.0 L187.1,51.1 L185.0,52.3 L181.9,53.5 L178.8,55.0 L175.8,56.2 L174.7,58.1 L174.5,60.5 L175.4,62.4 L176.2,63.6 L178.8,65.0 L181.5,64.6 L184.0,63.2 L186.2,61.8 L187.1,63.4 L188.9,65.0 L190.2,67.5 L190.8,68.7 L193.6,70.2 L194.1,68.9 L197.3,68.7 L198.4,66.7 L198.8,64.4 L201.5,62.8 L202.9,61.3 L200.2,59.5 L200.0,57.4 L200.6,56.0 L203.5,54.1 L206.6,53.1 L208.7,51.7 L208.2,50.2 L210.1,49.0 L214.2,49.0 L216.7,50.2 L216.5,51.1 L212.8,52.9 L209.1,54.6 L208.2,56.8 L208.7,58.9 L211.3,60.9 L215.8,60.5 L220.0,59.9 L223.0,59.7 L225.7,60.3 L223.0,61.1 L218.9,62.0 L213.8,62.4 L212.6,63.2 L212.8,64.4 L214.4,65.5 L214.2,66.7 L212.1,67.1 L209.7,66.1 L208.0,67.3 L207.6,69.2 L208.0,70.8 L205.2,72.2 L202.5,72.2 L199.4,71.8 L195.3,73.1 L192.2,72.4 L189.7,72.9 L187.1,73.1 L186.9,71.8 L185.0,71.2 L186.0,70.0 L186.7,68.5 L185.8,67.1 L186.0,65.7 L184.0,66.9 L182.1,67.3 L181.1,67.9 L181.3,70.2 L182.1,71.4 L182.8,73.3 L180.9,74.1 L178.6,74.5 L174.7,74.9 L173.7,76.8 L172.1,78.2 L169.6,79.2 L167.7,79.6 L167.7,81.1 L164.9,82.1 L162.2,82.7 L161.6,84.2 L158.3,84.0 L155.0,84.4 L155.6,85.8 L159.3,87.0 L160.3,88.3 L161.8,89.7 L162.0,92.8 L161.4,95.1 L157.3,95.1 L153.1,94.6 L148.0,94.4 L145.5,95.5 L146.2,97.3 L146.4,99.0 L146.6,102.0 L164.5,102.0 L166.1,100.0 L168.6,99.4 L171.0,98.1 L170.8,95.9 L172.7,94.8 L175.8,95.5 L178.8,94.6 L181.9,93.2 L184.4,93.6 L186.0,95.9 L187.5,97.1 L190.2,98.6 L192.2,99.6 L193.2,100.4 L194.3,102.0 L202.5,102.0 L201.3,100.8 L199.2,99.8 L197.3,98.1 L193.6,96.9 L192.2,94.6 L189.9,92.6 L189.7,90.9 L192.6,90.5 L192.8,92.0 L195.7,93.6 L198.2,94.8 L201.7,96.7 L203.5,97.9 L204.3,100.0 L204.5,102.0 L212.8,102.0 L211.3,100.8 L213.8,100.4 L217.9,100.4 L218.5,101.8 L221.0,101.0 L223.9,100.2 L223.0,99.6 L222.0,97.9 L221.4,96.7 L222.0,95.5 L223.2,94.2 L223.7,92.0 L225.3,91.1 L226.5,90.1 L228.6,88.5 L230.9,89.1 L233.3,89.7 L231.5,90.7 L232.7,91.6 L233.3,92.8 L235.4,92.4 L237.4,91.6 L239.5,91.1 L237.4,90.7 L236.4,89.3 L239.5,88.3 L243.0,87.4 L245.0,87.2 L243.0,88.7 L241.8,89.7 L241.1,91.1 L239.9,91.4 L241.5,92.4 L244.2,93.2 L246.7,95.1 L249.8,97.9 L250.0,99.0 L247.7,100.0 L245.7,99.8 L241.5,100.0 L238.5,98.6 L235.4,97.9 L232.3,97.9 L229.2,99.4 L226.1,99.6 L224.3,99.6 L223.9,102.0 L289.9,102.0Z M152.7,81.3 L157.3,80.9 L162.4,80.0 L167.1,79.0 L168.0,76.1 L165.1,74.5 L163.8,72.9 L161.4,70.8 L160.1,69.2 L159.1,68.3 L160.8,66.1 L157.9,63.8 L154.2,63.8 L152.7,65.9 L152.9,68.1 L153.1,70.4 L154.2,71.6 L157.5,71.4 L158.3,73.7 L158.3,74.7 L155.0,74.7 L155.8,75.9 L156.0,77.0 L153.8,77.8 L155.8,78.4 L158.3,78.6 L155.6,79.2 L153.8,80.3Z M151.9,77.0 L151.9,74.3 L152.9,72.4 L151.9,70.8 L149.4,70.4 L147.2,71.4 L144.1,72.9 L144.5,74.7 L143.3,77.2 L144.9,78.2 L148.0,78.0 L151.3,77.0Z M182.1,99.2 L183.8,99.2 L184.0,95.9 L182.1,97.1Z M181.3,102.0 L184.4,102.0 L184.6,99.6 L181.3,100.0Z M186.7,70.6 L190.2,70.6 L189.7,68.9 L187.7,69.4Z M201.9,67.1 L203.3,65.9 L203.1,65.2 L201.7,66.1Z M-2.0,13.4 L10.0,13.3 L25.0,13.4 L40.0,13.4 L60.0,13.0 L80.0,12.6 L96.0,12.3 L104.0,12.2 L112.0,12.4 L118.0,13.6 L126.0,14.8 L133.0,15.6 L138.5,16.4 L134.0,18.2 L129.0,20.2 L126.0,22.6 L125.5,25.0 L123.5,28.5 L120.5,32.0 L118.5,36.0 L116.0,39.8 L111.2,42.0 L104.0,43.3 L98.0,44.2 L91.0,47.0 L85.6,48.6 L81.3,51.3 L78.3,54.9 L76.1,58.6 L73.2,60.4 L68.8,59.7 L65.2,58.6 L61.5,56.4 L59.0,54.0 L57.5,51.0 L56.2,47.5 L55.0,44.0 L53.3,41.0 L51.2,37.8 L48.3,34.5 L45.3,31.2 L42.0,28.6 L38.0,27.8 L33.4,27.9 L27.0,27.4 L21.1,27.1 L16.0,25.5 L12.9,25.3 L9.0,24.5 L6.0,25.6 L3.5,27.6 L1.5,29.0 L-2.0,29.5Z M-2.0,31.8 L2.0,31.4 L6.2,33.3 L9.5,35.2 L12.9,36.9 L17.0,37.6 L21.1,38.6 L24.5,40.5 L27.6,42.6 L31.0,44.3 L34.2,46.0 L37.3,47.6 L35.0,49.2 L33.2,50.2 L31.0,51.8 L31.7,54.0 L31.4,56.5 L29.6,58.6 L30.4,60.0 L32.0,61.0 L33.5,62.3 L35.0,64.2 L36.7,66.3 L38.8,68.6 L40.9,70.5 L44.1,72.2 L46.5,73.4 L48.3,74.9 L49.2,77.2 L48.5,78.8 L46.5,80.0 L44.0,80.6 L42.0,81.6 L38.0,81.3 L33.0,81.0 L28.0,81.6 L24.0,82.8 L20.0,84.8 L16.0,87.3 L12.0,90.4 L10.5,91.8 L12.8,91.0 L17.0,88.7 L21.0,87.2 L24.5,86.0 L26.6,86.2 L26.2,87.6 L27.6,88.6 L30.0,89.0 L33.0,88.4 L36.0,87.4 L38.6,87.2 L41.1,87.7 L39.5,89.3 L36.5,90.4 L33.5,91.8 L31.0,93.3 L28.8,94.8 L27.6,93.6 L25.8,93.0 L27.5,91.6 L25.0,92.0 L23.6,94.5 L21.7,96.0 L20.8,97.3 L22.0,98.2 L20.6,98.9 L18.5,99.3 L15.5,100.0 L13.5,100.7 L11.0,103.0 L-2.0,103.0Z M42.2,86.6 L43.6,84.9 L44.6,83.5 L45.6,82.2 L46.5,80.6 L48.2,79.3 L49.6,78.7 L50.5,79.6 L49.8,80.6 L51.3,81.0 L53.6,81.6 L54.8,82.6 L55.5,84.2 L55.9,85.4 L56.6,86.0 L56.3,87.7 L54.6,88.3 L53.6,87.6 L51.8,87.9 L50.7,87.4 L49.4,86.8 L47.5,86.4 L45.5,86.6Z M32.0,88.0 L36.0,88.2 L37.0,88.9 L34.5,88.8 L32.5,88.7Z M31.8,82.2 L37.2,83.2 L37.0,83.9 L32.8,83.0Z" fill="#e5e5e5" stroke="#333" stroke-width="0.95" stroke-linejoin="round"/>
<path d="M-2.0,23.3 L2.4,23.6 L3.0,27.0 L2.4,30.6 L-2.0,30.6Z M7.0,20.2 L14.0,19.8 L13.0,22.8 L7.5,23.2Z M-2.0,52.5 L3.0,51.8 L7.0,52.6 L10.6,53.4 L15.0,54.6 L19.0,55.9 L21.4,56.4 L25.0,57.5 L28.0,58.6 L30.6,59.6 L29.8,60.6 L27.0,60.2 L28.5,62.5 L27.5,64.2 L24.5,64.6 L22.2,63.0 L21.3,61.2 L20.5,60.0 L16.0,58.8 L12.0,58.0 L8.0,56.8 L4.0,56.0 L1.5,55.4 L-2.0,55.4Z M-2.0,58.0 L2.5,58.4 L3.6,60.5 L5.5,62.5 L5.8,65.5 L4.0,68.0 L4.8,70.5 L3.5,73.0 L2.0,75.0 L-2.0,76.0Z M-2.0,40.5 L2.0,41.2 L4.2,43.0 L8.0,44.5 L12.0,45.3 L14.0,46.8 L10.0,47.6 L6.0,47.2 L4.0,48.5 L4.5,50.4 L2.0,51.0 L-2.0,50.8Z M22.8,47.0 L27.0,47.6 L31.0,48.6 L35.5,48.8 L33.5,50.0 L29.0,50.2 L25.0,49.4 L22.5,48.4Z M23.0,51.8 L27.0,52.4 L30.5,53.4 L29.5,54.4 L26.0,53.8 L23.5,52.9Z" fill="#fff" stroke="#333" stroke-width="0.95" stroke-linejoin="round"/>
<path d="M-1.0,17.5 L5.0,17.3 M21.0,17.2 L30.0,16.8 L38.0,16.5 M2.0,21.5 L10.0,20.6 L20.0,20.8 L31.6,20.1 M14.0,24.3 L20.0,24.6 L27.0,24.5 M40.0,15.0 L46.0,14.8 L52.0,15.4" fill="none" stroke="#333" stroke-width="2.2" stroke-linejoin="round"/>
<path d="M-1.0,17.5 L5.0,17.3 M21.0,17.2 L30.0,16.8 L38.0,16.5 M2.0,21.5 L10.0,20.6 L20.0,20.8 L31.6,20.1 M14.0,24.3 L20.0,24.6 L27.0,24.5 M40.0,15.0 L46.0,14.8 L52.0,15.4" fill="none" stroke="#fff" stroke-width="0.8" stroke-linejoin="round"/>
<path d="M137.0,16.6 137.7,20.6 135.3,17.3 132.8,13.8 133.7,18.0 132.1,16.8 132.0,18.8 128.9,14.4 130.4,19.6 128.4,17.6 128.8,20.4 125.8,18.1 127.3,21.5 124.3,19.3 126.0,22.7 123.7,23.2 125.6,24.5 120.5,22.8 124.9,26.1 120.2,24.5 124.0,27.7 122.0,27.5 122.9,29.2 119.2,27.2 121.7,30.6 119.9,30.2 120.5,32.0 116.9,31.1 119.7,33.6 114.4,31.9 118.9,35.2 113.6,33.2 118.0,36.8 113.2,34.7 117.0,38.3 111.7,35.9 116.0,39.8 114.4,38.4 114.3,40.6 112.5,38.7 112.7,41.3 110.4,38.5 111.0,42.0 109.6,39.4 109.2,42.4 107.8,39.3 107.4,42.7 105.8,38.8 105.7,43.0 103.8,37.7 103.9,43.3 102.1,37.8 102.1,43.6 100.3,37.8 100.3,43.9 99.0,41.8 98.5,44.1 95.5,38.9 96.7,44.7 94.4,41.3 95.1,45.4 93.3,43.4 93.4,46.1 91.0,42.6 91.7,46.7 90.3,45.4 90.0,47.3 87.4,41.9 88.2,47.8 85.9,43.2 86.5,48.3 85.0,46.5M42.0,28.6 43.6,28.1 43.4,29.7 45.1,29.1 44.8,30.8 47.3,29.8 46.1,32.1 49.6,30.2 47.3,33.5 49.3,32.9 48.6,34.8 50.6,34.2 49.8,36.2 51.4,35.9 51.0,37.5 55.0,35.9 52.0,39.0 55.7,37.7 53.0,40.5 54.9,40.4 53.9,42.1 57.1,41.3 54.8,43.7 58.9,43.2 55.5,45.3 57.0,45.8 56.0,47.0 59.5,46.7 56.7,48.8 58.5,49.0 57.3,50.5 58.8,50.7 58.0,52.1 62.1,51.1 58.9,53.7 60.8,52.9 60.1,55.0 62.8,53.5 61.4,56.3 64.2,53.4 62.9,57.2 65.0,55.6 64.5,58.2 66.2,56.3 66.1,58.9 67.6,57.2 67.9,59.4 69.0,58.6 69.6,59.8 71.0,56.8 71.4,60.1 72.8,57.4 73.2,60.4M60.0,13.0 60.9,14.6 61.8,13.0 62.8,14.9 63.6,12.9 64.6,14.8 65.4,12.9 66.4,14.1 67.2,12.9 68.2,14.3 69.0,12.8 70.0,13.6 70.9,12.8 71.8,13.7 72.7,12.7 73.6,14.1 74.5,12.7 75.4,13.6 76.3,12.7 77.2,14.5 78.1,12.6 79.0,13.4 79.9,12.6 80.8,13.4 81.7,12.6 82.6,13.3 83.5,12.5 84.5,14.3 85.3,12.5 86.2,13.4 87.1,12.5 88.1,14.3 88.9,12.4 89.9,14.4 90.7,12.4 91.7,13.9 92.6,12.4 93.5,14.3 94.4,12.3 95.3,14.3 96.2,12.3 97.1,13.3 98.0,12.3 98.9,13.1 99.8,12.3 100.7,12.9 101.6,12.2 102.5,13.7 103.4,12.2 104.3,13.8 105.2,12.2 106.1,13.3 107.0,12.3 107.9,13.6 108.8,12.3 109.7,13.6 110.6,12.4 111.5,13.1 112.4,12.5 113.2,13.3 114.2,12.8 114.8,14.8 116.0,13.2 116.5,15.0 117.8,13.6 118.4,15.1 119.6,13.8 120.3,14.6 121.3,14.1 121.9,16.2 123.1,14.4 123.8,16.1 124.9,14.6 125.5,16.7 126.7,14.9 127.5,16.1 128.5,15.1 129.2,16.9 130.3,15.3 131.0,17.0 132.1,15.5 132.8,17.4M175.8,56.2 177.3,57.6 177.5,55.5 178.7,56.1 179.2,54.8 180.7,55.9 180.8,54.0 182.4,55.3 182.5,53.3 184.0,54.7 184.2,52.6 185.9,53.9 185.8,51.8 187.3,52.4 187.4,50.8 189.2,51.6 188.8,49.7 190.6,50.3 190.2,48.5 191.6,48.4 191.3,47.0 193.2,47.0 192.2,45.4 193.5,45.9 193.7,44.4 195.5,45.5 195.3,43.5 196.7,44.1 196.9,42.6 198.1,43.2 198.7,42.1 199.9,42.8 200.4,41.4 201.8,42.5 202.1,40.7 203.3,42.1 203.9,40.3 205.2,42.2 205.7,39.9 206.8,41.2 207.5,39.7 208.6,41.2 209.3,39.4 210.6,41.4 211.1,39.1 212.2,40.0 212.9,38.7 214.0,39.6M174.5,60.5 175.4,59.7 174.7,58.7 175.5,58.1 175.3,57.0 176.7,56.7M2.0,31.4 1.8,34.0 3.7,32.2 3.7,34.3 5.3,32.9 5.6,34.4 6.9,33.7 7.2,35.2 8.5,34.6 8.5,36.5 10.1,35.5 10.2,37.4 11.7,36.3 11.6,38.7 13.4,37.0 14.1,38.3 15.2,37.3 15.9,38.7 17.0,37.6 17.3,40.1 18.8,38.0 19.4,39.2 20.5,38.5 20.3,41.0 22.2,39.2 22.1,41.3 23.8,40.1 23.6,42.2 25.3,41.1 25.0,43.2 26.8,42.1 26.6,44.2 28.4,43.0 28.4,45.0 30.0,43.8 30.4,45.0 31.7,44.6 31.7,46.5 33.3,45.5 32.9,48.1 34.9,46.3 34.7,48.6 36.5,47.2 37.9,46.5M30.4,60.0 30.6,61.4 31.9,61.0 31.4,62.9 33.3,62.1 32.9,63.6 34.5,63.5 34.5,64.7 35.6,65.0 35.0,66.6 36.8,66.4 36.5,67.8 38.0,67.7 37.7,69.2 39.2,69.0 39.4,70.2 40.6,70.2 41.0,71.4 42.1,71.2 42.0,73.3 43.7,72.0 43.8,73.9 45.3,72.8 45.4,74.7 46.9,73.7 47.0,75.1 48.3,74.9" fill="none" stroke="#333" stroke-width="0.7" stroke-linejoin="round"/>
<path d="M225.4,96.8 C227,95 228.5,94.5 229.6,94.7 C231.5,95 232.5,96 233.8,95.8 C235.5,95.5 236.5,94 238,94.2 C240,94.5 241,96 242.2,96.3 C244,96.8 245,97.5 246.4,98.4" fill="none" stroke="#9363a4" stroke-width="1.8"/></svg>
<rect x="382.1" y="315.5" width="287.8" height="100.6" fill="none" stroke="#000" stroke-width="0.7"/>
<line x1="423.21" y1="416.1" x2="423.21" y2="419.6" stroke="#000" stroke-width="0.65"/>
<line x1="484.89" y1="416.1" x2="484.89" y2="419.6" stroke="#000" stroke-width="0.65"/>
<line x1="546.56" y1="416.1" x2="546.56" y2="419.6" stroke="#000" stroke-width="0.65"/>
<line x1="608.23" y1="416.1" x2="608.23" y2="419.6" stroke="#000" stroke-width="0.65"/>
<line x1="669.90" y1="416.1" x2="669.90" y2="419.6" stroke="#000" stroke-width="0.65"/>
<line x1="378.6" y1="335.3" x2="382.1" y2="335.3" stroke="#000" stroke-width="0.65"/>
<line x1="378.6" y1="376.4" x2="382.1" y2="376.4" stroke="#000" stroke-width="0.65"/>
<g style="filter:grayscale(1)">
<text x="22.80" y="37.00" font-size="15.8" textLength="8.91" lengthAdjust="spacingAndGlyphs" font-family="Liberation Sans, sans-serif">2</text>
<text x="22.30" y="82.90" font-size="15.8" textLength="8.80" lengthAdjust="spacingAndGlyphs" font-family="Liberation Sans, sans-serif">1</text>
<text x="22.60" y="128.90" font-size="15.8" textLength="7.92" lengthAdjust="spacingAndGlyphs" font-family="Liberation Sans, sans-serif">0</text>
<text x="9.44" y="175.00" font-size="15.8" textLength="20.88" lengthAdjust="spacingAndGlyphs" font-family="Liberation Sans, sans-serif">−1</text>
<text x="9.40" y="221.20" font-size="15.8" textLength="21.62" lengthAdjust="spacingAndGlyphs" font-family="Liberation Sans, sans-serif">−2</text>
<text x="46.32" y="266.10" font-size="15.4" textLength="37.16" lengthAdjust="spacingAndGlyphs" font-family="Liberation Sans, sans-serif">1970</text>
<text x="163.92" y="266.10" font-size="15.4" textLength="37.16" lengthAdjust="spacingAndGlyphs" font-family="Liberation Sans, sans-serif">1980</text>
<text x="281.49" y="266.10" font-size="15.4" textLength="37.88" lengthAdjust="spacingAndGlyphs" font-family="Liberation Sans, sans-serif">1990</text>
<text x="400.00" y="266.10" font-size="15.4" textLength="36.67" lengthAdjust="spacingAndGlyphs" font-family="Liberation Sans, sans-serif">2000</text>
<text x="517.60" y="266.10" font-size="15.4" textLength="36.87" lengthAdjust="spacingAndGlyphs" font-family="Liberation Sans, sans-serif">2010</text>
<text x="635.20" y="266.10" font-size="15.4" textLength="36.47" lengthAdjust="spacingAndGlyphs" font-family="Liberation Sans, sans-serif">2020</text>
<text x="338.40" y="283.30" font-size="15.2" textLength="30.39" lengthAdjust="spacingAndGlyphs" font-family="Liberation Sans, sans-serif">Year</text>
<text x="36.33" y="10.40" font-size="15.0" textLength="100.60" lengthAdjust="spacingAndGlyphs" font-family="Liberation Sans, sans-serif">(a) SPG index</text>
<text x="596.80" y="220.40" font-size="11.8" textLength="64.58" lengthAdjust="spacingAndGlyphs" font-family="Liberation Sans, sans-serif">Strong SPG</text>
<text x="597.20" y="236.80" font-size="11.8" textLength="56.94" lengthAdjust="spacingAndGlyphs" font-family="Liberation Sans, sans-serif">Weak SPG</text>
<text x="36.03" y="310.30" font-size="13.0" textLength="72.10" lengthAdjust="spacingAndGlyphs" font-family="Liberation Sans, sans-serif">(b) Salinity</text>
<text x="381.21" y="310.50" font-size="13.0" textLength="108.60" lengthAdjust="spacingAndGlyphs" font-family="Liberation Sans, sans-serif">(c) Temperature</text>
<text x="-0.50" y="340.00" font-size="12.6" textLength="32.00" lengthAdjust="spacingAndGlyphs" font-family="Liberation Sans, sans-serif">80°N</text>
<text x="-0.50" y="380.80" font-size="12.6" textLength="32.00" lengthAdjust="spacingAndGlyphs" font-family="Liberation Sans, sans-serif">60°N</text>
<text x="58.90" y="431.60" font-size="12.6" textLength="34.93" lengthAdjust="spacingAndGlyphs" font-family="Liberation Sans, sans-serif">60°W</text>
<text x="121.55" y="431.60" font-size="12.6" textLength="34.03" lengthAdjust="spacingAndGlyphs" font-family="Liberation Sans, sans-serif">30°W</text>
<text x="187.15" y="431.60" font-size="12.6" textLength="26.23" lengthAdjust="spacingAndGlyphs" font-family="Liberation Sans, sans-serif">0°W</text>
<text x="247.50" y="431.60" font-size="12.6" textLength="30.30" lengthAdjust="spacingAndGlyphs" font-family="Liberation Sans, sans-serif">30°E</text>
<text x="309.70" y="431.60" font-size="12.6" textLength="30.30" lengthAdjust="spacingAndGlyphs" font-family="Liberation Sans, sans-serif">60°E</text>
<text x="404.50" y="431.60" font-size="12.6" textLength="34.93" lengthAdjust="spacingAndGlyphs" font-family="Liberation Sans, sans-serif">60°W</text>
<text x="467.15" y="431.60" font-size="12.6" textLength="34.03" lengthAdjust="spacingAndGlyphs" font-family="Liberation Sans, sans-serif">30°W</text>
<text x="532.75" y="431.60" font-size="12.6" textLength="26.23" lengthAdjust="spacingAndGlyphs" font-family="Liberation Sans, sans-serif">0°W</text>
<text x="593.10" y="431.60" font-size="12.6" textLength="30.30" lengthAdjust="spacingAndGlyphs" font-family="Liberation Sans, sans-serif">30°E</text>
<text x="655.30" y="431.60" font-size="12.6" textLength="30.30" lengthAdjust="spacingAndGlyphs" font-family="Liberation Sans, sans-serif">60°E</text>
<text x="137.03" y="489.40" font-size="12.6" textLength="26.64" lengthAdjust="spacingAndGlyphs" font-family="Liberation Sans, sans-serif">−0.4</text>
<text x="241.33" y="489.40" font-size="12.6" textLength="26.64" lengthAdjust="spacingAndGlyphs" font-family="Liberation Sans, sans-serif">−0.2</text>
<text x="350.30" y="489.40" font-size="12.6" textLength="19.06" lengthAdjust="spacingAndGlyphs" font-family="Liberation Sans, sans-serif">0.0</text>
<text x="454.60" y="489.40" font-size="12.6" textLength="19.06" lengthAdjust="spacingAndGlyphs" font-family="Liberation Sans, sans-serif">0.2</text>
<text x="558.90" y="489.40" font-size="12.6" textLength="18.00" lengthAdjust="spacingAndGlyphs" font-family="Liberation Sans, sans-serif">0.4</text>
</g>
</svg>
</body></html>
